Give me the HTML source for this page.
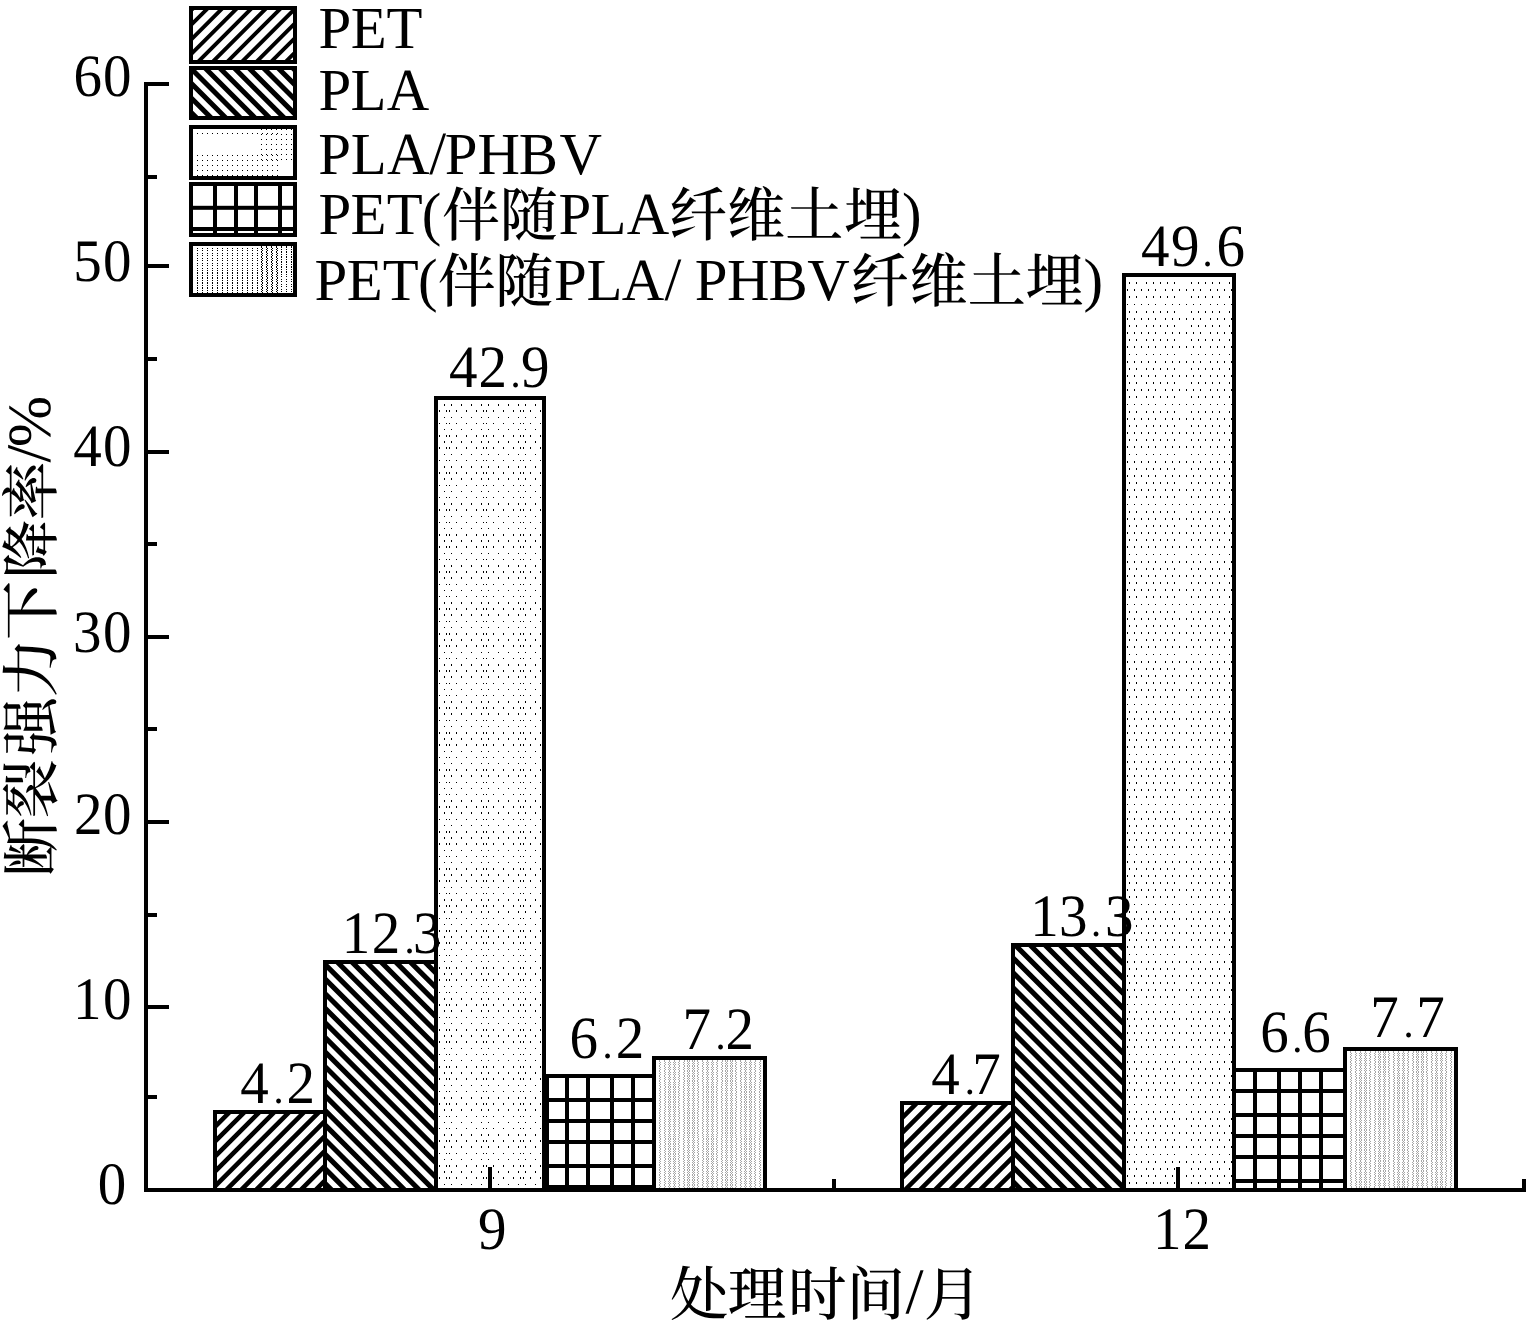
<!DOCTYPE html>
<html lang="zh"><head><meta charset="utf-8"><title>断裂强力下降率</title>
<style>
html,body{margin:0;padding:0;background:#fff;overflow:hidden}
svg{display:block}
text{font-family:"Liberation Serif","Noto Serif CJK SC",serif;fill:#000;font-kerning:none;white-space:pre;text-rendering:geometricPrecision}
</style></head>
<body>
<svg width="1527" height="1332" viewBox="0 0 1527 1332">
<defs>
<pattern id="pDotA" patternUnits="userSpaceOnUse" x="439" y="400" width="37" height="796"><path d="M5 4h1v2h-1zM12 4h1v2h-1zM22 4h1v2h-1zM32 4h1v2h-1zM0 10h1v2h-1zM7 10h1v2h-1zM10 10h1v2h-1zM17 10h1v2h-1zM27 10h1v2h-1zM5 17h1v1h-1zM12 17h1v1h-1zM22 17h1v1h-1zM32 17h1v1h-1zM0 23h1v1h-1zM7 23h1v1h-1zM10 23h1v1h-1zM17 23h1v1h-1zM27 23h1v1h-1zM5 29h1v1h-1zM12 29h1v1h-1zM22 29h1v1h-1zM32 29h1v1h-1zM0 35h1v2h-1zM7 35h1v2h-1zM10 35h1v2h-1zM17 35h1v2h-1zM27 35h1v2h-1zM5 41h1v2h-1zM12 41h1v2h-1zM22 41h1v2h-1zM32 41h1v2h-1zM0 47h1v2h-1zM7 47h1v2h-1zM10 47h1v2h-1zM17 47h1v2h-1zM27 47h1v2h-1zM5 54h1v1h-1zM12 54h1v1h-1zM22 54h1v1h-1zM32 54h1v1h-1zM0 60h1v1h-1zM7 60h1v1h-1zM10 60h1v1h-1zM17 60h1v1h-1zM27 60h1v1h-1zM5 66h1v2h-1zM12 66h1v2h-1zM22 66h1v2h-1zM32 66h1v2h-1zM0 72h1v2h-1zM7 72h1v2h-1zM10 72h1v2h-1zM17 72h1v2h-1zM27 72h1v2h-1zM5 78h1v2h-1zM12 78h1v2h-1zM22 78h1v2h-1zM32 78h1v2h-1zM0 85h1v1h-1zM7 85h1v1h-1zM10 85h1v1h-1zM17 85h1v1h-1zM27 85h1v1h-1zM5 91h1v1h-1zM12 91h1v1h-1zM22 91h1v1h-1zM32 91h1v1h-1zM0 97h1v1h-1zM7 97h1v1h-1zM10 97h1v1h-1zM17 97h1v1h-1zM27 97h1v1h-1zM5 103h1v2h-1zM12 103h1v2h-1zM22 103h1v2h-1zM32 103h1v2h-1zM0 109h1v2h-1zM7 109h1v2h-1zM10 109h1v2h-1zM17 109h1v2h-1zM27 109h1v2h-1zM5 116h1v1h-1zM12 116h1v1h-1zM22 116h1v1h-1zM32 116h1v1h-1zM0 122h1v1h-1zM7 122h1v1h-1zM10 122h1v1h-1zM17 122h1v1h-1zM27 122h1v1h-1zM5 128h1v1h-1zM12 128h1v1h-1zM22 128h1v1h-1zM32 128h1v1h-1zM0 134h1v2h-1zM7 134h1v2h-1zM10 134h1v2h-1zM17 134h1v2h-1zM27 134h1v2h-1zM5 140h1v2h-1zM12 140h1v2h-1zM22 140h1v2h-1zM32 140h1v2h-1zM0 146h1v2h-1zM7 146h1v2h-1zM10 146h1v2h-1zM17 146h1v2h-1zM27 146h1v2h-1zM5 153h1v1h-1zM12 153h1v1h-1zM22 153h1v1h-1zM32 153h1v1h-1zM0 159h1v1h-1zM7 159h1v1h-1zM10 159h1v1h-1zM17 159h1v1h-1zM27 159h1v1h-1zM5 165h1v2h-1zM12 165h1v2h-1zM22 165h1v2h-1zM32 165h1v2h-1zM0 171h1v2h-1zM7 171h1v2h-1zM10 171h1v2h-1zM17 171h1v2h-1zM27 171h1v2h-1zM5 177h1v2h-1zM12 177h1v2h-1zM22 177h1v2h-1zM32 177h1v2h-1zM0 184h1v1h-1zM7 184h1v1h-1zM10 184h1v1h-1zM17 184h1v1h-1zM27 184h1v1h-1zM5 190h1v1h-1zM12 190h1v1h-1zM22 190h1v1h-1zM32 190h1v1h-1zM0 196h1v1h-1zM7 196h1v1h-1zM10 196h1v1h-1zM17 196h1v1h-1zM27 196h1v1h-1zM5 202h1v2h-1zM12 202h1v2h-1zM22 202h1v2h-1zM32 202h1v2h-1zM0 208h1v2h-1zM7 208h1v2h-1zM10 208h1v2h-1zM17 208h1v2h-1zM27 208h1v2h-1zM5 214h1v2h-1zM12 214h1v2h-1zM22 214h1v2h-1zM32 214h1v2h-1zM0 221h1v1h-1zM7 221h1v1h-1zM10 221h1v1h-1zM17 221h1v1h-1zM27 221h1v1h-1zM5 227h1v1h-1zM12 227h1v1h-1zM22 227h1v1h-1zM32 227h1v1h-1zM0 233h1v2h-1zM7 233h1v2h-1zM10 233h1v2h-1zM17 233h1v2h-1zM27 233h1v2h-1zM5 239h1v2h-1zM12 239h1v2h-1zM22 239h1v2h-1zM32 239h1v2h-1zM0 245h1v2h-1zM7 245h1v2h-1zM10 245h1v2h-1zM17 245h1v2h-1zM27 245h1v2h-1zM5 252h1v1h-1zM12 252h1v1h-1zM22 252h1v1h-1zM32 252h1v1h-1zM0 258h1v1h-1zM7 258h1v1h-1zM10 258h1v1h-1zM17 258h1v1h-1zM27 258h1v1h-1zM5 264h1v2h-1zM12 264h1v2h-1zM22 264h1v2h-1zM32 264h1v2h-1zM0 270h1v2h-1zM7 270h1v2h-1zM10 270h1v2h-1zM17 270h1v2h-1zM27 270h1v2h-1zM5 276h1v2h-1zM12 276h1v2h-1zM22 276h1v2h-1zM32 276h1v2h-1zM0 283h1v1h-1zM7 283h1v1h-1zM10 283h1v1h-1zM17 283h1v1h-1zM27 283h1v1h-1zM5 289h1v1h-1zM12 289h1v1h-1zM22 289h1v1h-1zM32 289h1v1h-1zM0 295h1v1h-1zM7 295h1v1h-1zM10 295h1v1h-1zM17 295h1v1h-1zM27 295h1v1h-1zM5 301h1v2h-1zM12 301h1v2h-1zM22 301h1v2h-1zM32 301h1v2h-1zM0 307h1v2h-1zM7 307h1v2h-1zM10 307h1v2h-1zM17 307h1v2h-1zM27 307h1v2h-1zM5 313h1v2h-1zM12 313h1v2h-1zM22 313h1v2h-1zM32 313h1v2h-1zM0 320h1v1h-1zM7 320h1v1h-1zM10 320h1v1h-1zM17 320h1v1h-1zM27 320h1v1h-1zM5 326h1v1h-1zM12 326h1v1h-1zM22 326h1v1h-1zM32 326h1v1h-1zM0 332h1v2h-1zM7 332h1v2h-1zM10 332h1v2h-1zM17 332h1v2h-1zM27 332h1v2h-1zM5 338h1v2h-1zM12 338h1v2h-1zM22 338h1v2h-1zM32 338h1v2h-1zM0 344h1v2h-1zM7 344h1v2h-1zM10 344h1v2h-1zM17 344h1v2h-1zM27 344h1v2h-1zM5 351h1v1h-1zM12 351h1v1h-1zM22 351h1v1h-1zM32 351h1v1h-1zM0 357h1v1h-1zM7 357h1v1h-1zM10 357h1v1h-1zM17 357h1v1h-1zM27 357h1v1h-1zM5 363h1v1h-1zM12 363h1v1h-1zM22 363h1v1h-1zM32 363h1v1h-1zM0 369h1v2h-1zM7 369h1v2h-1zM10 369h1v2h-1zM17 369h1v2h-1zM27 369h1v2h-1zM5 375h1v2h-1zM12 375h1v2h-1zM22 375h1v2h-1zM32 375h1v2h-1zM0 382h1v1h-1zM7 382h1v1h-1zM10 382h1v1h-1zM17 382h1v1h-1zM27 382h1v1h-1zM5 388h1v1h-1zM12 388h1v1h-1zM22 388h1v1h-1zM32 388h1v1h-1zM0 394h1v1h-1zM7 394h1v1h-1zM10 394h1v1h-1zM17 394h1v1h-1zM27 394h1v1h-1zM5 400h1v2h-1zM12 400h1v2h-1zM22 400h1v2h-1zM32 400h1v2h-1zM0 406h1v2h-1zM7 406h1v2h-1zM10 406h1v2h-1zM17 406h1v2h-1zM27 406h1v2h-1zM5 412h1v2h-1zM12 412h1v2h-1zM22 412h1v2h-1zM32 412h1v2h-1zM0 419h1v1h-1zM7 419h1v1h-1zM10 419h1v1h-1zM17 419h1v1h-1zM27 419h1v1h-1zM5 425h1v1h-1zM12 425h1v1h-1zM22 425h1v1h-1zM32 425h1v1h-1zM0 431h1v2h-1zM7 431h1v2h-1zM10 431h1v2h-1zM17 431h1v2h-1zM27 431h1v2h-1zM5 437h1v2h-1zM12 437h1v2h-1zM22 437h1v2h-1zM32 437h1v2h-1zM0 443h1v2h-1zM7 443h1v2h-1zM10 443h1v2h-1zM17 443h1v2h-1zM27 443h1v2h-1zM5 450h1v1h-1zM12 450h1v1h-1zM22 450h1v1h-1zM32 450h1v1h-1zM0 456h1v1h-1zM7 456h1v1h-1zM10 456h1v1h-1zM17 456h1v1h-1zM27 456h1v1h-1zM5 462h1v1h-1zM12 462h1v1h-1zM22 462h1v1h-1zM32 462h1v1h-1zM0 468h1v2h-1zM7 468h1v2h-1zM10 468h1v2h-1zM17 468h1v2h-1zM27 468h1v2h-1zM5 474h1v2h-1zM12 474h1v2h-1zM22 474h1v2h-1zM32 474h1v2h-1zM0 480h1v2h-1zM7 480h1v2h-1zM10 480h1v2h-1zM17 480h1v2h-1zM27 480h1v2h-1zM5 487h1v1h-1zM12 487h1v1h-1zM22 487h1v1h-1zM32 487h1v1h-1zM0 493h1v1h-1zM7 493h1v1h-1zM10 493h1v1h-1zM17 493h1v1h-1zM27 493h1v1h-1zM5 499h1v2h-1zM12 499h1v2h-1zM22 499h1v2h-1zM32 499h1v2h-1zM0 505h1v2h-1zM7 505h1v2h-1zM10 505h1v2h-1zM17 505h1v2h-1zM27 505h1v2h-1zM5 511h1v2h-1zM12 511h1v2h-1zM22 511h1v2h-1zM32 511h1v2h-1zM0 518h1v1h-1zM7 518h1v1h-1zM10 518h1v1h-1zM17 518h1v1h-1zM27 518h1v1h-1zM5 524h1v1h-1zM12 524h1v1h-1zM22 524h1v1h-1zM32 524h1v1h-1zM0 530h1v2h-1zM7 530h1v2h-1zM10 530h1v2h-1zM17 530h1v2h-1zM27 530h1v2h-1zM5 536h1v2h-1zM12 536h1v2h-1zM22 536h1v2h-1zM32 536h1v2h-1zM0 542h1v2h-1zM7 542h1v2h-1zM10 542h1v2h-1zM17 542h1v2h-1zM27 542h1v2h-1zM5 549h1v1h-1zM12 549h1v1h-1zM22 549h1v1h-1zM32 549h1v1h-1zM0 555h1v1h-1zM7 555h1v1h-1zM10 555h1v1h-1zM17 555h1v1h-1zM27 555h1v1h-1zM5 561h1v1h-1zM12 561h1v1h-1zM22 561h1v1h-1zM32 561h1v1h-1zM0 567h1v2h-1zM7 567h1v2h-1zM10 567h1v2h-1zM17 567h1v2h-1zM27 567h1v2h-1zM5 573h1v2h-1zM12 573h1v2h-1zM22 573h1v2h-1zM32 573h1v2h-1zM0 579h1v2h-1zM7 579h1v2h-1zM10 579h1v2h-1zM17 579h1v2h-1zM27 579h1v2h-1zM5 586h1v1h-1zM12 586h1v1h-1zM22 586h1v1h-1zM32 586h1v1h-1zM0 592h1v1h-1zM7 592h1v1h-1zM10 592h1v1h-1zM17 592h1v1h-1zM27 592h1v1h-1zM5 598h1v2h-1zM12 598h1v2h-1zM22 598h1v2h-1zM32 598h1v2h-1zM0 604h1v2h-1zM7 604h1v2h-1zM10 604h1v2h-1zM17 604h1v2h-1zM27 604h1v2h-1zM5 610h1v2h-1zM12 610h1v2h-1zM22 610h1v2h-1zM32 610h1v2h-1zM0 617h1v1h-1zM7 617h1v1h-1zM10 617h1v1h-1zM17 617h1v1h-1zM27 617h1v1h-1zM5 623h1v1h-1zM12 623h1v1h-1zM22 623h1v1h-1zM32 623h1v1h-1zM0 629h1v2h-1zM7 629h1v2h-1zM10 629h1v2h-1zM17 629h1v2h-1zM27 629h1v2h-1zM5 635h1v2h-1zM12 635h1v2h-1zM22 635h1v2h-1zM32 635h1v2h-1zM0 641h1v2h-1zM7 641h1v2h-1zM10 641h1v2h-1zM17 641h1v2h-1zM27 641h1v2h-1zM5 648h1v1h-1zM12 648h1v1h-1zM22 648h1v1h-1zM32 648h1v1h-1zM0 654h1v1h-1zM7 654h1v1h-1zM10 654h1v1h-1zM17 654h1v1h-1zM27 654h1v1h-1zM5 660h1v1h-1zM12 660h1v1h-1zM22 660h1v1h-1zM32 660h1v1h-1zM0 666h1v2h-1zM7 666h1v2h-1zM10 666h1v2h-1zM17 666h1v2h-1zM27 666h1v2h-1zM5 672h1v2h-1zM12 672h1v2h-1zM22 672h1v2h-1zM32 672h1v2h-1zM0 678h1v2h-1zM7 678h1v2h-1zM10 678h1v2h-1zM17 678h1v2h-1zM27 678h1v2h-1zM5 685h1v1h-1zM12 685h1v1h-1zM22 685h1v1h-1zM32 685h1v1h-1zM0 691h1v1h-1zM7 691h1v1h-1zM10 691h1v1h-1zM17 691h1v1h-1zM27 691h1v1h-1zM5 697h1v2h-1zM12 697h1v2h-1zM22 697h1v2h-1zM32 697h1v2h-1zM0 703h1v2h-1zM7 703h1v2h-1zM10 703h1v2h-1zM17 703h1v2h-1zM27 703h1v2h-1zM5 709h1v2h-1zM12 709h1v2h-1zM22 709h1v2h-1zM32 709h1v2h-1zM0 716h1v1h-1zM7 716h1v1h-1zM10 716h1v1h-1zM17 716h1v1h-1zM27 716h1v1h-1zM5 722h1v1h-1zM12 722h1v1h-1zM22 722h1v1h-1zM32 722h1v1h-1zM0 728h1v1h-1zM7 728h1v1h-1zM10 728h1v1h-1zM17 728h1v1h-1zM27 728h1v1h-1zM5 734h1v2h-1zM12 734h1v2h-1zM22 734h1v2h-1zM32 734h1v2h-1zM0 740h1v2h-1zM7 740h1v2h-1zM10 740h1v2h-1zM17 740h1v2h-1zM27 740h1v2h-1zM5 746h1v2h-1zM12 746h1v2h-1zM22 746h1v2h-1zM32 746h1v2h-1zM0 753h1v1h-1zM7 753h1v1h-1zM10 753h1v1h-1zM17 753h1v1h-1zM27 753h1v1h-1zM5 759h1v1h-1zM12 759h1v1h-1zM22 759h1v1h-1zM32 759h1v1h-1zM0 765h1v2h-1zM7 765h1v2h-1zM10 765h1v2h-1zM17 765h1v2h-1zM27 765h1v2h-1zM5 771h1v2h-1zM12 771h1v2h-1zM22 771h1v2h-1zM32 771h1v2h-1zM0 777h1v2h-1zM7 777h1v2h-1zM10 777h1v2h-1zM17 777h1v2h-1zM27 777h1v2h-1zM5 784h1v1h-1zM12 784h1v1h-1zM22 784h1v1h-1zM32 784h1v1h-1z" fill="#000" shape-rendering="crispEdges"/></pattern>
<pattern id="pDotB" patternUnits="userSpaceOnUse" x="1126" y="277" width="120" height="919"><path d="M3 5h1v2h-1zM10 5h1v2h-1zM20 5h1v2h-1zM27 5h1v2h-1zM34 5h1v2h-1zM41 5h1v2h-1zM48 5h1v2h-1zM65 5h1v2h-1zM72 5h1v2h-1zM79 5h1v2h-1zM86 5h1v2h-1zM93 5h1v2h-1zM103 5h1v2h-1zM1 12h1v2h-1zM8 12h1v2h-1zM15 12h1v2h-1zM22 12h1v2h-1zM29 12h1v2h-1zM39 12h1v2h-1zM46 12h1v2h-1zM53 12h1v2h-1zM60 12h1v2h-1zM67 12h1v2h-1zM74 12h1v2h-1zM84 12h1v2h-1zM91 12h1v2h-1zM98 12h1v2h-1zM105 12h1v2h-1zM3 19h1v2h-1zM10 19h1v2h-1zM20 19h1v2h-1zM27 19h1v2h-1zM34 19h1v2h-1zM41 19h1v2h-1zM48 19h1v2h-1zM65 19h1v2h-1zM72 19h1v2h-1zM79 19h1v2h-1zM86 19h1v2h-1zM93 19h1v2h-1zM103 19h1v2h-1zM1 27h1v1h-1zM8 27h1v1h-1zM15 27h1v1h-1zM22 27h1v1h-1zM29 27h1v1h-1zM39 27h1v1h-1zM46 27h1v1h-1zM53 27h1v1h-1zM60 27h1v1h-1zM67 27h1v1h-1zM74 27h1v1h-1zM84 27h1v1h-1zM91 27h1v1h-1zM98 27h1v1h-1zM105 27h1v1h-1zM3 34h1v2h-1zM10 34h1v2h-1zM20 34h1v2h-1zM27 34h1v2h-1zM34 34h1v2h-1zM41 34h1v2h-1zM48 34h1v2h-1zM65 34h1v2h-1zM72 34h1v2h-1zM79 34h1v2h-1zM86 34h1v2h-1zM93 34h1v2h-1zM103 34h1v2h-1zM1 41h1v2h-1zM8 41h1v2h-1zM15 41h1v2h-1zM22 41h1v2h-1zM29 41h1v2h-1zM39 41h1v2h-1zM46 41h1v2h-1zM53 41h1v2h-1zM60 41h1v2h-1zM67 41h1v2h-1zM74 41h1v2h-1zM84 41h1v2h-1zM91 41h1v2h-1zM98 41h1v2h-1zM105 41h1v2h-1zM3 48h1v2h-1zM10 48h1v2h-1zM20 48h1v2h-1zM27 48h1v2h-1zM34 48h1v2h-1zM41 48h1v2h-1zM48 48h1v2h-1zM65 48h1v2h-1zM72 48h1v2h-1zM79 48h1v2h-1zM86 48h1v2h-1zM93 48h1v2h-1zM103 48h1v2h-1zM1 55h1v2h-1zM8 55h1v2h-1zM15 55h1v2h-1zM22 55h1v2h-1zM29 55h1v2h-1zM39 55h1v2h-1zM46 55h1v2h-1zM53 55h1v2h-1zM60 55h1v2h-1zM67 55h1v2h-1zM74 55h1v2h-1zM84 55h1v2h-1zM91 55h1v2h-1zM98 55h1v2h-1zM105 55h1v2h-1zM3 62h1v2h-1zM10 62h1v2h-1zM20 62h1v2h-1zM27 62h1v2h-1zM34 62h1v2h-1zM41 62h1v2h-1zM48 62h1v2h-1zM65 62h1v2h-1zM72 62h1v2h-1zM79 62h1v2h-1zM86 62h1v2h-1zM93 62h1v2h-1zM103 62h1v2h-1zM1 69h1v2h-1zM8 69h1v2h-1zM15 69h1v2h-1zM22 69h1v2h-1zM29 69h1v2h-1zM39 69h1v2h-1zM46 69h1v2h-1zM53 69h1v2h-1zM60 69h1v2h-1zM67 69h1v2h-1zM74 69h1v2h-1zM84 69h1v2h-1zM91 69h1v2h-1zM98 69h1v2h-1zM105 69h1v2h-1zM3 77h1v1h-1zM10 77h1v1h-1zM20 77h1v1h-1zM27 77h1v1h-1zM34 77h1v1h-1zM41 77h1v1h-1zM48 77h1v1h-1zM65 77h1v1h-1zM72 77h1v1h-1zM79 77h1v1h-1zM86 77h1v1h-1zM93 77h1v1h-1zM103 77h1v1h-1zM1 84h1v2h-1zM8 84h1v2h-1zM15 84h1v2h-1zM22 84h1v2h-1zM29 84h1v2h-1zM39 84h1v2h-1zM46 84h1v2h-1zM53 84h1v2h-1zM60 84h1v2h-1zM67 84h1v2h-1zM74 84h1v2h-1zM84 84h1v2h-1zM91 84h1v2h-1zM98 84h1v2h-1zM105 84h1v2h-1zM3 91h1v2h-1zM10 91h1v2h-1zM20 91h1v2h-1zM27 91h1v2h-1zM34 91h1v2h-1zM41 91h1v2h-1zM48 91h1v2h-1zM65 91h1v2h-1zM72 91h1v2h-1zM79 91h1v2h-1zM86 91h1v2h-1zM93 91h1v2h-1zM103 91h1v2h-1zM1 98h1v2h-1zM8 98h1v2h-1zM15 98h1v2h-1zM22 98h1v2h-1zM29 98h1v2h-1zM39 98h1v2h-1zM46 98h1v2h-1zM53 98h1v2h-1zM60 98h1v2h-1zM67 98h1v2h-1zM74 98h1v2h-1zM84 98h1v2h-1zM91 98h1v2h-1zM98 98h1v2h-1zM105 98h1v2h-1zM3 105h1v2h-1zM10 105h1v2h-1zM20 105h1v2h-1zM27 105h1v2h-1zM34 105h1v2h-1zM41 105h1v2h-1zM48 105h1v2h-1zM65 105h1v2h-1zM72 105h1v2h-1zM79 105h1v2h-1zM86 105h1v2h-1zM93 105h1v2h-1zM103 105h1v2h-1zM1 112h1v2h-1zM8 112h1v2h-1zM15 112h1v2h-1zM22 112h1v2h-1zM29 112h1v2h-1zM39 112h1v2h-1zM46 112h1v2h-1zM53 112h1v2h-1zM60 112h1v2h-1zM67 112h1v2h-1zM74 112h1v2h-1zM84 112h1v2h-1zM91 112h1v2h-1zM98 112h1v2h-1zM105 112h1v2h-1zM3 119h1v2h-1zM10 119h1v2h-1zM20 119h1v2h-1zM27 119h1v2h-1zM34 119h1v2h-1zM41 119h1v2h-1zM48 119h1v2h-1zM65 119h1v2h-1zM72 119h1v2h-1zM79 119h1v2h-1zM86 119h1v2h-1zM93 119h1v2h-1zM103 119h1v2h-1zM1 127h1v1h-1zM8 127h1v1h-1zM15 127h1v1h-1zM22 127h1v1h-1zM29 127h1v1h-1zM39 127h1v1h-1zM46 127h1v1h-1zM53 127h1v1h-1zM60 127h1v1h-1zM67 127h1v1h-1zM74 127h1v1h-1zM84 127h1v1h-1zM91 127h1v1h-1zM98 127h1v1h-1zM105 127h1v1h-1zM3 134h1v2h-1zM10 134h1v2h-1zM20 134h1v2h-1zM27 134h1v2h-1zM34 134h1v2h-1zM41 134h1v2h-1zM48 134h1v2h-1zM65 134h1v2h-1zM72 134h1v2h-1zM79 134h1v2h-1zM86 134h1v2h-1zM93 134h1v2h-1zM103 134h1v2h-1zM1 141h1v2h-1zM8 141h1v2h-1zM15 141h1v2h-1zM22 141h1v2h-1zM29 141h1v2h-1zM39 141h1v2h-1zM46 141h1v2h-1zM53 141h1v2h-1zM60 141h1v2h-1zM67 141h1v2h-1zM74 141h1v2h-1zM84 141h1v2h-1zM91 141h1v2h-1zM98 141h1v2h-1zM105 141h1v2h-1zM3 148h1v2h-1zM10 148h1v2h-1zM20 148h1v2h-1zM27 148h1v2h-1zM34 148h1v2h-1zM41 148h1v2h-1zM48 148h1v2h-1zM65 148h1v2h-1zM72 148h1v2h-1zM79 148h1v2h-1zM86 148h1v2h-1zM93 148h1v2h-1zM103 148h1v2h-1zM1 155h1v2h-1zM8 155h1v2h-1zM15 155h1v2h-1zM22 155h1v2h-1zM29 155h1v2h-1zM39 155h1v2h-1zM46 155h1v2h-1zM53 155h1v2h-1zM60 155h1v2h-1zM67 155h1v2h-1zM74 155h1v2h-1zM84 155h1v2h-1zM91 155h1v2h-1zM98 155h1v2h-1zM105 155h1v2h-1zM3 162h1v2h-1zM10 162h1v2h-1zM20 162h1v2h-1zM27 162h1v2h-1zM34 162h1v2h-1zM41 162h1v2h-1zM48 162h1v2h-1zM65 162h1v2h-1zM72 162h1v2h-1zM79 162h1v2h-1zM86 162h1v2h-1zM93 162h1v2h-1zM103 162h1v2h-1zM1 169h1v2h-1zM8 169h1v2h-1zM15 169h1v2h-1zM22 169h1v2h-1zM29 169h1v2h-1zM39 169h1v2h-1zM46 169h1v2h-1zM53 169h1v2h-1zM60 169h1v2h-1zM67 169h1v2h-1zM74 169h1v2h-1zM84 169h1v2h-1zM91 169h1v2h-1zM98 169h1v2h-1zM105 169h1v2h-1zM3 177h1v1h-1zM10 177h1v1h-1zM20 177h1v1h-1zM27 177h1v1h-1zM34 177h1v1h-1zM41 177h1v1h-1zM48 177h1v1h-1zM65 177h1v1h-1zM72 177h1v1h-1zM79 177h1v1h-1zM86 177h1v1h-1zM93 177h1v1h-1zM103 177h1v1h-1zM1 184h1v2h-1zM8 184h1v2h-1zM15 184h1v2h-1zM22 184h1v2h-1zM29 184h1v2h-1zM39 184h1v2h-1zM46 184h1v2h-1zM53 184h1v2h-1zM60 184h1v2h-1zM67 184h1v2h-1zM74 184h1v2h-1zM84 184h1v2h-1zM91 184h1v2h-1zM98 184h1v2h-1zM105 184h1v2h-1zM3 191h1v2h-1zM10 191h1v2h-1zM20 191h1v2h-1zM27 191h1v2h-1zM34 191h1v2h-1zM41 191h1v2h-1zM48 191h1v2h-1zM65 191h1v2h-1zM72 191h1v2h-1zM79 191h1v2h-1zM86 191h1v2h-1zM93 191h1v2h-1zM103 191h1v2h-1zM1 198h1v2h-1zM8 198h1v2h-1zM15 198h1v2h-1zM22 198h1v2h-1zM29 198h1v2h-1zM39 198h1v2h-1zM46 198h1v2h-1zM53 198h1v2h-1zM60 198h1v2h-1zM67 198h1v2h-1zM74 198h1v2h-1zM84 198h1v2h-1zM91 198h1v2h-1zM98 198h1v2h-1zM105 198h1v2h-1zM3 205h1v2h-1zM10 205h1v2h-1zM20 205h1v2h-1zM27 205h1v2h-1zM34 205h1v2h-1zM41 205h1v2h-1zM48 205h1v2h-1zM65 205h1v2h-1zM72 205h1v2h-1zM79 205h1v2h-1zM86 205h1v2h-1zM93 205h1v2h-1zM103 205h1v2h-1zM1 212h1v2h-1zM8 212h1v2h-1zM15 212h1v2h-1zM22 212h1v2h-1zM29 212h1v2h-1zM39 212h1v2h-1zM46 212h1v2h-1zM53 212h1v2h-1zM60 212h1v2h-1zM67 212h1v2h-1zM74 212h1v2h-1zM84 212h1v2h-1zM91 212h1v2h-1zM98 212h1v2h-1zM105 212h1v2h-1zM3 219h1v2h-1zM10 219h1v2h-1zM20 219h1v2h-1zM27 219h1v2h-1zM34 219h1v2h-1zM41 219h1v2h-1zM48 219h1v2h-1zM65 219h1v2h-1zM72 219h1v2h-1zM79 219h1v2h-1zM86 219h1v2h-1zM93 219h1v2h-1zM103 219h1v2h-1zM1 227h1v1h-1zM8 227h1v1h-1zM15 227h1v1h-1zM22 227h1v1h-1zM29 227h1v1h-1zM39 227h1v1h-1zM46 227h1v1h-1zM53 227h1v1h-1zM60 227h1v1h-1zM67 227h1v1h-1zM74 227h1v1h-1zM84 227h1v1h-1zM91 227h1v1h-1zM98 227h1v1h-1zM105 227h1v1h-1zM3 234h1v2h-1zM10 234h1v2h-1zM20 234h1v2h-1zM27 234h1v2h-1zM34 234h1v2h-1zM41 234h1v2h-1zM48 234h1v2h-1zM65 234h1v2h-1zM72 234h1v2h-1zM79 234h1v2h-1zM86 234h1v2h-1zM93 234h1v2h-1zM103 234h1v2h-1zM1 241h1v2h-1zM8 241h1v2h-1zM15 241h1v2h-1zM22 241h1v2h-1zM29 241h1v2h-1zM39 241h1v2h-1zM46 241h1v2h-1zM53 241h1v2h-1zM60 241h1v2h-1zM67 241h1v2h-1zM74 241h1v2h-1zM84 241h1v2h-1zM91 241h1v2h-1zM98 241h1v2h-1zM105 241h1v2h-1zM3 248h1v2h-1zM10 248h1v2h-1zM20 248h1v2h-1zM27 248h1v2h-1zM34 248h1v2h-1zM41 248h1v2h-1zM48 248h1v2h-1zM65 248h1v2h-1zM72 248h1v2h-1zM79 248h1v2h-1zM86 248h1v2h-1zM93 248h1v2h-1zM103 248h1v2h-1zM1 255h1v2h-1zM8 255h1v2h-1zM15 255h1v2h-1zM22 255h1v2h-1zM29 255h1v2h-1zM39 255h1v2h-1zM46 255h1v2h-1zM53 255h1v2h-1zM60 255h1v2h-1zM67 255h1v2h-1zM74 255h1v2h-1zM84 255h1v2h-1zM91 255h1v2h-1zM98 255h1v2h-1zM105 255h1v2h-1zM3 262h1v2h-1zM10 262h1v2h-1zM20 262h1v2h-1zM27 262h1v2h-1zM34 262h1v2h-1zM41 262h1v2h-1zM48 262h1v2h-1zM65 262h1v2h-1zM72 262h1v2h-1zM79 262h1v2h-1zM86 262h1v2h-1zM93 262h1v2h-1zM103 262h1v2h-1zM1 269h1v2h-1zM8 269h1v2h-1zM15 269h1v2h-1zM22 269h1v2h-1zM29 269h1v2h-1zM39 269h1v2h-1zM46 269h1v2h-1zM53 269h1v2h-1zM60 269h1v2h-1zM67 269h1v2h-1zM74 269h1v2h-1zM84 269h1v2h-1zM91 269h1v2h-1zM98 269h1v2h-1zM105 269h1v2h-1zM3 277h1v1h-1zM10 277h1v1h-1zM20 277h1v1h-1zM27 277h1v1h-1zM34 277h1v1h-1zM41 277h1v1h-1zM48 277h1v1h-1zM65 277h1v1h-1zM72 277h1v1h-1zM79 277h1v1h-1zM86 277h1v1h-1zM93 277h1v1h-1zM103 277h1v1h-1zM1 284h1v2h-1zM8 284h1v2h-1zM15 284h1v2h-1zM22 284h1v2h-1zM29 284h1v2h-1zM39 284h1v2h-1zM46 284h1v2h-1zM53 284h1v2h-1zM60 284h1v2h-1zM67 284h1v2h-1zM74 284h1v2h-1zM84 284h1v2h-1zM91 284h1v2h-1zM98 284h1v2h-1zM105 284h1v2h-1zM3 291h1v2h-1zM10 291h1v2h-1zM20 291h1v2h-1zM27 291h1v2h-1zM34 291h1v2h-1zM41 291h1v2h-1zM48 291h1v2h-1zM65 291h1v2h-1zM72 291h1v2h-1zM79 291h1v2h-1zM86 291h1v2h-1zM93 291h1v2h-1zM103 291h1v2h-1zM1 298h1v2h-1zM8 298h1v2h-1zM15 298h1v2h-1zM22 298h1v2h-1zM29 298h1v2h-1zM39 298h1v2h-1zM46 298h1v2h-1zM53 298h1v2h-1zM60 298h1v2h-1zM67 298h1v2h-1zM74 298h1v2h-1zM84 298h1v2h-1zM91 298h1v2h-1zM98 298h1v2h-1zM105 298h1v2h-1zM3 305h1v2h-1zM10 305h1v2h-1zM20 305h1v2h-1zM27 305h1v2h-1zM34 305h1v2h-1zM41 305h1v2h-1zM48 305h1v2h-1zM65 305h1v2h-1zM72 305h1v2h-1zM79 305h1v2h-1zM86 305h1v2h-1zM93 305h1v2h-1zM103 305h1v2h-1zM1 312h1v2h-1zM8 312h1v2h-1zM15 312h1v2h-1zM22 312h1v2h-1zM29 312h1v2h-1zM39 312h1v2h-1zM46 312h1v2h-1zM53 312h1v2h-1zM60 312h1v2h-1zM67 312h1v2h-1zM74 312h1v2h-1zM84 312h1v2h-1zM91 312h1v2h-1zM98 312h1v2h-1zM105 312h1v2h-1zM3 319h1v2h-1zM10 319h1v2h-1zM20 319h1v2h-1zM27 319h1v2h-1zM34 319h1v2h-1zM41 319h1v2h-1zM48 319h1v2h-1zM65 319h1v2h-1zM72 319h1v2h-1zM79 319h1v2h-1zM86 319h1v2h-1zM93 319h1v2h-1zM103 319h1v2h-1zM1 327h1v1h-1zM8 327h1v1h-1zM15 327h1v1h-1zM22 327h1v1h-1zM29 327h1v1h-1zM39 327h1v1h-1zM46 327h1v1h-1zM53 327h1v1h-1zM60 327h1v1h-1zM67 327h1v1h-1zM74 327h1v1h-1zM84 327h1v1h-1zM91 327h1v1h-1zM98 327h1v1h-1zM105 327h1v1h-1zM3 334h1v2h-1zM10 334h1v2h-1zM20 334h1v2h-1zM27 334h1v2h-1zM34 334h1v2h-1zM41 334h1v2h-1zM48 334h1v2h-1zM65 334h1v2h-1zM72 334h1v2h-1zM79 334h1v2h-1zM86 334h1v2h-1zM93 334h1v2h-1zM103 334h1v2h-1zM1 341h1v2h-1zM8 341h1v2h-1zM15 341h1v2h-1zM22 341h1v2h-1zM29 341h1v2h-1zM39 341h1v2h-1zM46 341h1v2h-1zM53 341h1v2h-1zM60 341h1v2h-1zM67 341h1v2h-1zM74 341h1v2h-1zM84 341h1v2h-1zM91 341h1v2h-1zM98 341h1v2h-1zM105 341h1v2h-1zM3 348h1v2h-1zM10 348h1v2h-1zM20 348h1v2h-1zM27 348h1v2h-1zM34 348h1v2h-1zM41 348h1v2h-1zM48 348h1v2h-1zM65 348h1v2h-1zM72 348h1v2h-1zM79 348h1v2h-1zM86 348h1v2h-1zM93 348h1v2h-1zM103 348h1v2h-1zM1 355h1v2h-1zM8 355h1v2h-1zM15 355h1v2h-1zM22 355h1v2h-1zM29 355h1v2h-1zM39 355h1v2h-1zM46 355h1v2h-1zM53 355h1v2h-1zM60 355h1v2h-1zM67 355h1v2h-1zM74 355h1v2h-1zM84 355h1v2h-1zM91 355h1v2h-1zM98 355h1v2h-1zM105 355h1v2h-1zM3 362h1v2h-1zM10 362h1v2h-1zM20 362h1v2h-1zM27 362h1v2h-1zM34 362h1v2h-1zM41 362h1v2h-1zM48 362h1v2h-1zM65 362h1v2h-1zM72 362h1v2h-1zM79 362h1v2h-1zM86 362h1v2h-1zM93 362h1v2h-1zM103 362h1v2h-1zM1 369h1v2h-1zM8 369h1v2h-1zM15 369h1v2h-1zM22 369h1v2h-1zM29 369h1v2h-1zM39 369h1v2h-1zM46 369h1v2h-1zM53 369h1v2h-1zM60 369h1v2h-1zM67 369h1v2h-1zM74 369h1v2h-1zM84 369h1v2h-1zM91 369h1v2h-1zM98 369h1v2h-1zM105 369h1v2h-1zM3 377h1v1h-1zM10 377h1v1h-1zM20 377h1v1h-1zM27 377h1v1h-1zM34 377h1v1h-1zM41 377h1v1h-1zM48 377h1v1h-1zM65 377h1v1h-1zM72 377h1v1h-1zM79 377h1v1h-1zM86 377h1v1h-1zM93 377h1v1h-1zM103 377h1v1h-1zM1 384h1v2h-1zM8 384h1v2h-1zM15 384h1v2h-1zM22 384h1v2h-1zM29 384h1v2h-1zM39 384h1v2h-1zM46 384h1v2h-1zM53 384h1v2h-1zM60 384h1v2h-1zM67 384h1v2h-1zM74 384h1v2h-1zM84 384h1v2h-1zM91 384h1v2h-1zM98 384h1v2h-1zM105 384h1v2h-1zM3 391h1v2h-1zM10 391h1v2h-1zM20 391h1v2h-1zM27 391h1v2h-1zM34 391h1v2h-1zM41 391h1v2h-1zM48 391h1v2h-1zM65 391h1v2h-1zM72 391h1v2h-1zM79 391h1v2h-1zM86 391h1v2h-1zM93 391h1v2h-1zM103 391h1v2h-1zM1 398h1v2h-1zM8 398h1v2h-1zM15 398h1v2h-1zM22 398h1v2h-1zM29 398h1v2h-1zM39 398h1v2h-1zM46 398h1v2h-1zM53 398h1v2h-1zM60 398h1v2h-1zM67 398h1v2h-1zM74 398h1v2h-1zM84 398h1v2h-1zM91 398h1v2h-1zM98 398h1v2h-1zM105 398h1v2h-1zM3 405h1v2h-1zM10 405h1v2h-1zM20 405h1v2h-1zM27 405h1v2h-1zM34 405h1v2h-1zM41 405h1v2h-1zM48 405h1v2h-1zM65 405h1v2h-1zM72 405h1v2h-1zM79 405h1v2h-1zM86 405h1v2h-1zM93 405h1v2h-1zM103 405h1v2h-1zM1 412h1v2h-1zM8 412h1v2h-1zM15 412h1v2h-1zM22 412h1v2h-1zM29 412h1v2h-1zM39 412h1v2h-1zM46 412h1v2h-1zM53 412h1v2h-1zM60 412h1v2h-1zM67 412h1v2h-1zM74 412h1v2h-1zM84 412h1v2h-1zM91 412h1v2h-1zM98 412h1v2h-1zM105 412h1v2h-1zM3 419h1v2h-1zM10 419h1v2h-1zM20 419h1v2h-1zM27 419h1v2h-1zM34 419h1v2h-1zM41 419h1v2h-1zM48 419h1v2h-1zM65 419h1v2h-1zM72 419h1v2h-1zM79 419h1v2h-1zM86 419h1v2h-1zM93 419h1v2h-1zM103 419h1v2h-1zM1 427h1v1h-1zM8 427h1v1h-1zM15 427h1v1h-1zM22 427h1v1h-1zM29 427h1v1h-1zM39 427h1v1h-1zM46 427h1v1h-1zM53 427h1v1h-1zM60 427h1v1h-1zM67 427h1v1h-1zM74 427h1v1h-1zM84 427h1v1h-1zM91 427h1v1h-1zM98 427h1v1h-1zM105 427h1v1h-1zM3 434h1v2h-1zM10 434h1v2h-1zM20 434h1v2h-1zM27 434h1v2h-1zM34 434h1v2h-1zM41 434h1v2h-1zM48 434h1v2h-1zM65 434h1v2h-1zM72 434h1v2h-1zM79 434h1v2h-1zM86 434h1v2h-1zM93 434h1v2h-1zM103 434h1v2h-1zM1 441h1v2h-1zM8 441h1v2h-1zM15 441h1v2h-1zM22 441h1v2h-1zM29 441h1v2h-1zM39 441h1v2h-1zM46 441h1v2h-1zM53 441h1v2h-1zM60 441h1v2h-1zM67 441h1v2h-1zM74 441h1v2h-1zM84 441h1v2h-1zM91 441h1v2h-1zM98 441h1v2h-1zM105 441h1v2h-1zM3 448h1v2h-1zM10 448h1v2h-1zM20 448h1v2h-1zM27 448h1v2h-1zM34 448h1v2h-1zM41 448h1v2h-1zM48 448h1v2h-1zM65 448h1v2h-1zM72 448h1v2h-1zM79 448h1v2h-1zM86 448h1v2h-1zM93 448h1v2h-1zM103 448h1v2h-1zM1 455h1v2h-1zM8 455h1v2h-1zM15 455h1v2h-1zM22 455h1v2h-1zM29 455h1v2h-1zM39 455h1v2h-1zM46 455h1v2h-1zM53 455h1v2h-1zM60 455h1v2h-1zM67 455h1v2h-1zM74 455h1v2h-1zM84 455h1v2h-1zM91 455h1v2h-1zM98 455h1v2h-1zM105 455h1v2h-1zM3 462h1v2h-1zM10 462h1v2h-1zM20 462h1v2h-1zM27 462h1v2h-1zM34 462h1v2h-1zM41 462h1v2h-1zM48 462h1v2h-1zM65 462h1v2h-1zM72 462h1v2h-1zM79 462h1v2h-1zM86 462h1v2h-1zM93 462h1v2h-1zM103 462h1v2h-1zM1 469h1v2h-1zM8 469h1v2h-1zM15 469h1v2h-1zM22 469h1v2h-1zM29 469h1v2h-1zM39 469h1v2h-1zM46 469h1v2h-1zM53 469h1v2h-1zM60 469h1v2h-1zM67 469h1v2h-1zM74 469h1v2h-1zM84 469h1v2h-1zM91 469h1v2h-1zM98 469h1v2h-1zM105 469h1v2h-1zM3 477h1v1h-1zM10 477h1v1h-1zM20 477h1v1h-1zM27 477h1v1h-1zM34 477h1v1h-1zM41 477h1v1h-1zM48 477h1v1h-1zM65 477h1v1h-1zM72 477h1v1h-1zM79 477h1v1h-1zM86 477h1v1h-1zM93 477h1v1h-1zM103 477h1v1h-1zM1 484h1v2h-1zM8 484h1v2h-1zM15 484h1v2h-1zM22 484h1v2h-1zM29 484h1v2h-1zM39 484h1v2h-1zM46 484h1v2h-1zM53 484h1v2h-1zM60 484h1v2h-1zM67 484h1v2h-1zM74 484h1v2h-1zM84 484h1v2h-1zM91 484h1v2h-1zM98 484h1v2h-1zM105 484h1v2h-1zM3 491h1v2h-1zM10 491h1v2h-1zM20 491h1v2h-1zM27 491h1v2h-1zM34 491h1v2h-1zM41 491h1v2h-1zM48 491h1v2h-1zM65 491h1v2h-1zM72 491h1v2h-1zM79 491h1v2h-1zM86 491h1v2h-1zM93 491h1v2h-1zM103 491h1v2h-1zM1 498h1v2h-1zM8 498h1v2h-1zM15 498h1v2h-1zM22 498h1v2h-1zM29 498h1v2h-1zM39 498h1v2h-1zM46 498h1v2h-1zM53 498h1v2h-1zM60 498h1v2h-1zM67 498h1v2h-1zM74 498h1v2h-1zM84 498h1v2h-1zM91 498h1v2h-1zM98 498h1v2h-1zM105 498h1v2h-1zM3 505h1v2h-1zM10 505h1v2h-1zM20 505h1v2h-1zM27 505h1v2h-1zM34 505h1v2h-1zM41 505h1v2h-1zM48 505h1v2h-1zM65 505h1v2h-1zM72 505h1v2h-1zM79 505h1v2h-1zM86 505h1v2h-1zM93 505h1v2h-1zM103 505h1v2h-1zM1 512h1v2h-1zM8 512h1v2h-1zM15 512h1v2h-1zM22 512h1v2h-1zM29 512h1v2h-1zM39 512h1v2h-1zM46 512h1v2h-1zM53 512h1v2h-1zM60 512h1v2h-1zM67 512h1v2h-1zM74 512h1v2h-1zM84 512h1v2h-1zM91 512h1v2h-1zM98 512h1v2h-1zM105 512h1v2h-1zM3 519h1v2h-1zM10 519h1v2h-1zM20 519h1v2h-1zM27 519h1v2h-1zM34 519h1v2h-1zM41 519h1v2h-1zM48 519h1v2h-1zM65 519h1v2h-1zM72 519h1v2h-1zM79 519h1v2h-1zM86 519h1v2h-1zM93 519h1v2h-1zM103 519h1v2h-1zM1 527h1v1h-1zM8 527h1v1h-1zM15 527h1v1h-1zM22 527h1v1h-1zM29 527h1v1h-1zM39 527h1v1h-1zM46 527h1v1h-1zM53 527h1v1h-1zM60 527h1v1h-1zM67 527h1v1h-1zM74 527h1v1h-1zM84 527h1v1h-1zM91 527h1v1h-1zM98 527h1v1h-1zM105 527h1v1h-1zM3 534h1v2h-1zM10 534h1v2h-1zM20 534h1v2h-1zM27 534h1v2h-1zM34 534h1v2h-1zM41 534h1v2h-1zM48 534h1v2h-1zM65 534h1v2h-1zM72 534h1v2h-1zM79 534h1v2h-1zM86 534h1v2h-1zM93 534h1v2h-1zM103 534h1v2h-1zM1 541h1v2h-1zM8 541h1v2h-1zM15 541h1v2h-1zM22 541h1v2h-1zM29 541h1v2h-1zM39 541h1v2h-1zM46 541h1v2h-1zM53 541h1v2h-1zM60 541h1v2h-1zM67 541h1v2h-1zM74 541h1v2h-1zM84 541h1v2h-1zM91 541h1v2h-1zM98 541h1v2h-1zM105 541h1v2h-1zM3 548h1v2h-1zM10 548h1v2h-1zM20 548h1v2h-1zM27 548h1v2h-1zM34 548h1v2h-1zM41 548h1v2h-1zM48 548h1v2h-1zM65 548h1v2h-1zM72 548h1v2h-1zM79 548h1v2h-1zM86 548h1v2h-1zM93 548h1v2h-1zM103 548h1v2h-1zM1 555h1v2h-1zM8 555h1v2h-1zM15 555h1v2h-1zM22 555h1v2h-1zM29 555h1v2h-1zM39 555h1v2h-1zM46 555h1v2h-1zM53 555h1v2h-1zM60 555h1v2h-1zM67 555h1v2h-1zM74 555h1v2h-1zM84 555h1v2h-1zM91 555h1v2h-1zM98 555h1v2h-1zM105 555h1v2h-1zM3 562h1v2h-1zM10 562h1v2h-1zM20 562h1v2h-1zM27 562h1v2h-1zM34 562h1v2h-1zM41 562h1v2h-1zM48 562h1v2h-1zM65 562h1v2h-1zM72 562h1v2h-1zM79 562h1v2h-1zM86 562h1v2h-1zM93 562h1v2h-1zM103 562h1v2h-1zM1 569h1v2h-1zM8 569h1v2h-1zM15 569h1v2h-1zM22 569h1v2h-1zM29 569h1v2h-1zM39 569h1v2h-1zM46 569h1v2h-1zM53 569h1v2h-1zM60 569h1v2h-1zM67 569h1v2h-1zM74 569h1v2h-1zM84 569h1v2h-1zM91 569h1v2h-1zM98 569h1v2h-1zM105 569h1v2h-1zM3 577h1v1h-1zM10 577h1v1h-1zM20 577h1v1h-1zM27 577h1v1h-1zM34 577h1v1h-1zM41 577h1v1h-1zM48 577h1v1h-1zM65 577h1v1h-1zM72 577h1v1h-1zM79 577h1v1h-1zM86 577h1v1h-1zM93 577h1v1h-1zM103 577h1v1h-1zM1 584h1v2h-1zM8 584h1v2h-1zM15 584h1v2h-1zM22 584h1v2h-1zM29 584h1v2h-1zM39 584h1v2h-1zM46 584h1v2h-1zM53 584h1v2h-1zM60 584h1v2h-1zM67 584h1v2h-1zM74 584h1v2h-1zM84 584h1v2h-1zM91 584h1v2h-1zM98 584h1v2h-1zM105 584h1v2h-1zM3 591h1v2h-1zM10 591h1v2h-1zM20 591h1v2h-1zM27 591h1v2h-1zM34 591h1v2h-1zM41 591h1v2h-1zM48 591h1v2h-1zM65 591h1v2h-1zM72 591h1v2h-1zM79 591h1v2h-1zM86 591h1v2h-1zM93 591h1v2h-1zM103 591h1v2h-1zM1 598h1v2h-1zM8 598h1v2h-1zM15 598h1v2h-1zM22 598h1v2h-1zM29 598h1v2h-1zM39 598h1v2h-1zM46 598h1v2h-1zM53 598h1v2h-1zM60 598h1v2h-1zM67 598h1v2h-1zM74 598h1v2h-1zM84 598h1v2h-1zM91 598h1v2h-1zM98 598h1v2h-1zM105 598h1v2h-1zM3 605h1v2h-1zM10 605h1v2h-1zM20 605h1v2h-1zM27 605h1v2h-1zM34 605h1v2h-1zM41 605h1v2h-1zM48 605h1v2h-1zM65 605h1v2h-1zM72 605h1v2h-1zM79 605h1v2h-1zM86 605h1v2h-1zM93 605h1v2h-1zM103 605h1v2h-1zM1 612h1v2h-1zM8 612h1v2h-1zM15 612h1v2h-1zM22 612h1v2h-1zM29 612h1v2h-1zM39 612h1v2h-1zM46 612h1v2h-1zM53 612h1v2h-1zM60 612h1v2h-1zM67 612h1v2h-1zM74 612h1v2h-1zM84 612h1v2h-1zM91 612h1v2h-1zM98 612h1v2h-1zM105 612h1v2h-1zM3 619h1v2h-1zM10 619h1v2h-1zM20 619h1v2h-1zM27 619h1v2h-1zM34 619h1v2h-1zM41 619h1v2h-1zM48 619h1v2h-1zM65 619h1v2h-1zM72 619h1v2h-1zM79 619h1v2h-1zM86 619h1v2h-1zM93 619h1v2h-1zM103 619h1v2h-1zM1 627h1v1h-1zM8 627h1v1h-1zM15 627h1v1h-1zM22 627h1v1h-1zM29 627h1v1h-1zM39 627h1v1h-1zM46 627h1v1h-1zM53 627h1v1h-1zM60 627h1v1h-1zM67 627h1v1h-1zM74 627h1v1h-1zM84 627h1v1h-1zM91 627h1v1h-1zM98 627h1v1h-1zM105 627h1v1h-1zM3 634h1v2h-1zM10 634h1v2h-1zM20 634h1v2h-1zM27 634h1v2h-1zM34 634h1v2h-1zM41 634h1v2h-1zM48 634h1v2h-1zM65 634h1v2h-1zM72 634h1v2h-1zM79 634h1v2h-1zM86 634h1v2h-1zM93 634h1v2h-1zM103 634h1v2h-1zM1 641h1v2h-1zM8 641h1v2h-1zM15 641h1v2h-1zM22 641h1v2h-1zM29 641h1v2h-1zM39 641h1v2h-1zM46 641h1v2h-1zM53 641h1v2h-1zM60 641h1v2h-1zM67 641h1v2h-1zM74 641h1v2h-1zM84 641h1v2h-1zM91 641h1v2h-1zM98 641h1v2h-1zM105 641h1v2h-1zM3 648h1v2h-1zM10 648h1v2h-1zM20 648h1v2h-1zM27 648h1v2h-1zM34 648h1v2h-1zM41 648h1v2h-1zM48 648h1v2h-1zM65 648h1v2h-1zM72 648h1v2h-1zM79 648h1v2h-1zM86 648h1v2h-1zM93 648h1v2h-1zM103 648h1v2h-1zM1 655h1v2h-1zM8 655h1v2h-1zM15 655h1v2h-1zM22 655h1v2h-1zM29 655h1v2h-1zM39 655h1v2h-1zM46 655h1v2h-1zM53 655h1v2h-1zM60 655h1v2h-1zM67 655h1v2h-1zM74 655h1v2h-1zM84 655h1v2h-1zM91 655h1v2h-1zM98 655h1v2h-1zM105 655h1v2h-1zM3 662h1v2h-1zM10 662h1v2h-1zM20 662h1v2h-1zM27 662h1v2h-1zM34 662h1v2h-1zM41 662h1v2h-1zM48 662h1v2h-1zM65 662h1v2h-1zM72 662h1v2h-1zM79 662h1v2h-1zM86 662h1v2h-1zM93 662h1v2h-1zM103 662h1v2h-1zM1 669h1v2h-1zM8 669h1v2h-1zM15 669h1v2h-1zM22 669h1v2h-1zM29 669h1v2h-1zM39 669h1v2h-1zM46 669h1v2h-1zM53 669h1v2h-1zM60 669h1v2h-1zM67 669h1v2h-1zM74 669h1v2h-1zM84 669h1v2h-1zM91 669h1v2h-1zM98 669h1v2h-1zM105 669h1v2h-1zM3 677h1v1h-1zM10 677h1v1h-1zM20 677h1v1h-1zM27 677h1v1h-1zM34 677h1v1h-1zM41 677h1v1h-1zM48 677h1v1h-1zM65 677h1v1h-1zM72 677h1v1h-1zM79 677h1v1h-1zM86 677h1v1h-1zM93 677h1v1h-1zM103 677h1v1h-1zM1 684h1v2h-1zM8 684h1v2h-1zM15 684h1v2h-1zM22 684h1v2h-1zM29 684h1v2h-1zM39 684h1v2h-1zM46 684h1v2h-1zM53 684h1v2h-1zM60 684h1v2h-1zM67 684h1v2h-1zM74 684h1v2h-1zM84 684h1v2h-1zM91 684h1v2h-1zM98 684h1v2h-1zM105 684h1v2h-1zM3 691h1v2h-1zM10 691h1v2h-1zM20 691h1v2h-1zM27 691h1v2h-1zM34 691h1v2h-1zM41 691h1v2h-1zM48 691h1v2h-1zM65 691h1v2h-1zM72 691h1v2h-1zM79 691h1v2h-1zM86 691h1v2h-1zM93 691h1v2h-1zM103 691h1v2h-1zM1 698h1v2h-1zM8 698h1v2h-1zM15 698h1v2h-1zM22 698h1v2h-1zM29 698h1v2h-1zM39 698h1v2h-1zM46 698h1v2h-1zM53 698h1v2h-1zM60 698h1v2h-1zM67 698h1v2h-1zM74 698h1v2h-1zM84 698h1v2h-1zM91 698h1v2h-1zM98 698h1v2h-1zM105 698h1v2h-1zM3 705h1v2h-1zM10 705h1v2h-1zM20 705h1v2h-1zM27 705h1v2h-1zM34 705h1v2h-1zM41 705h1v2h-1zM48 705h1v2h-1zM65 705h1v2h-1zM72 705h1v2h-1zM79 705h1v2h-1zM86 705h1v2h-1zM93 705h1v2h-1zM103 705h1v2h-1zM1 712h1v2h-1zM8 712h1v2h-1zM15 712h1v2h-1zM22 712h1v2h-1zM29 712h1v2h-1zM39 712h1v2h-1zM46 712h1v2h-1zM53 712h1v2h-1zM60 712h1v2h-1zM67 712h1v2h-1zM74 712h1v2h-1zM84 712h1v2h-1zM91 712h1v2h-1zM98 712h1v2h-1zM105 712h1v2h-1zM3 719h1v2h-1zM10 719h1v2h-1zM20 719h1v2h-1zM27 719h1v2h-1zM34 719h1v2h-1zM41 719h1v2h-1zM48 719h1v2h-1zM65 719h1v2h-1zM72 719h1v2h-1zM79 719h1v2h-1zM86 719h1v2h-1zM93 719h1v2h-1zM103 719h1v2h-1zM1 727h1v1h-1zM8 727h1v1h-1zM15 727h1v1h-1zM22 727h1v1h-1zM29 727h1v1h-1zM39 727h1v1h-1zM46 727h1v1h-1zM53 727h1v1h-1zM60 727h1v1h-1zM67 727h1v1h-1zM74 727h1v1h-1zM84 727h1v1h-1zM91 727h1v1h-1zM98 727h1v1h-1zM105 727h1v1h-1zM3 734h1v2h-1zM10 734h1v2h-1zM20 734h1v2h-1zM27 734h1v2h-1zM34 734h1v2h-1zM41 734h1v2h-1zM48 734h1v2h-1zM65 734h1v2h-1zM72 734h1v2h-1zM79 734h1v2h-1zM86 734h1v2h-1zM93 734h1v2h-1zM103 734h1v2h-1zM1 741h1v2h-1zM8 741h1v2h-1zM15 741h1v2h-1zM22 741h1v2h-1zM29 741h1v2h-1zM39 741h1v2h-1zM46 741h1v2h-1zM53 741h1v2h-1zM60 741h1v2h-1zM67 741h1v2h-1zM74 741h1v2h-1zM84 741h1v2h-1zM91 741h1v2h-1zM98 741h1v2h-1zM105 741h1v2h-1zM3 748h1v2h-1zM10 748h1v2h-1zM20 748h1v2h-1zM27 748h1v2h-1zM34 748h1v2h-1zM41 748h1v2h-1zM48 748h1v2h-1zM65 748h1v2h-1zM72 748h1v2h-1zM79 748h1v2h-1zM86 748h1v2h-1zM93 748h1v2h-1zM103 748h1v2h-1zM1 755h1v2h-1zM8 755h1v2h-1zM15 755h1v2h-1zM22 755h1v2h-1zM29 755h1v2h-1zM39 755h1v2h-1zM46 755h1v2h-1zM53 755h1v2h-1zM60 755h1v2h-1zM67 755h1v2h-1zM74 755h1v2h-1zM84 755h1v2h-1zM91 755h1v2h-1zM98 755h1v2h-1zM105 755h1v2h-1zM3 762h1v2h-1zM10 762h1v2h-1zM20 762h1v2h-1zM27 762h1v2h-1zM34 762h1v2h-1zM41 762h1v2h-1zM48 762h1v2h-1zM65 762h1v2h-1zM72 762h1v2h-1zM79 762h1v2h-1zM86 762h1v2h-1zM93 762h1v2h-1zM103 762h1v2h-1zM1 769h1v2h-1zM8 769h1v2h-1zM15 769h1v2h-1zM22 769h1v2h-1zM29 769h1v2h-1zM39 769h1v2h-1zM46 769h1v2h-1zM53 769h1v2h-1zM60 769h1v2h-1zM67 769h1v2h-1zM74 769h1v2h-1zM84 769h1v2h-1zM91 769h1v2h-1zM98 769h1v2h-1zM105 769h1v2h-1zM3 777h1v1h-1zM10 777h1v1h-1zM20 777h1v1h-1zM27 777h1v1h-1zM34 777h1v1h-1zM41 777h1v1h-1zM48 777h1v1h-1zM65 777h1v1h-1zM72 777h1v1h-1zM79 777h1v1h-1zM86 777h1v1h-1zM93 777h1v1h-1zM103 777h1v1h-1zM1 784h1v2h-1zM8 784h1v2h-1zM15 784h1v2h-1zM22 784h1v2h-1zM29 784h1v2h-1zM39 784h1v2h-1zM46 784h1v2h-1zM53 784h1v2h-1zM60 784h1v2h-1zM67 784h1v2h-1zM74 784h1v2h-1zM84 784h1v2h-1zM91 784h1v2h-1zM98 784h1v2h-1zM105 784h1v2h-1zM3 791h1v2h-1zM10 791h1v2h-1zM20 791h1v2h-1zM27 791h1v2h-1zM34 791h1v2h-1zM41 791h1v2h-1zM48 791h1v2h-1zM65 791h1v2h-1zM72 791h1v2h-1zM79 791h1v2h-1zM86 791h1v2h-1zM93 791h1v2h-1zM103 791h1v2h-1zM1 798h1v2h-1zM8 798h1v2h-1zM15 798h1v2h-1zM22 798h1v2h-1zM29 798h1v2h-1zM39 798h1v2h-1zM46 798h1v2h-1zM53 798h1v2h-1zM60 798h1v2h-1zM67 798h1v2h-1zM74 798h1v2h-1zM84 798h1v2h-1zM91 798h1v2h-1zM98 798h1v2h-1zM105 798h1v2h-1zM3 805h1v2h-1zM10 805h1v2h-1zM20 805h1v2h-1zM27 805h1v2h-1zM34 805h1v2h-1zM41 805h1v2h-1zM48 805h1v2h-1zM65 805h1v2h-1zM72 805h1v2h-1zM79 805h1v2h-1zM86 805h1v2h-1zM93 805h1v2h-1zM103 805h1v2h-1zM1 812h1v2h-1zM8 812h1v2h-1zM15 812h1v2h-1zM22 812h1v2h-1zM29 812h1v2h-1zM39 812h1v2h-1zM46 812h1v2h-1zM53 812h1v2h-1zM60 812h1v2h-1zM67 812h1v2h-1zM74 812h1v2h-1zM84 812h1v2h-1zM91 812h1v2h-1zM98 812h1v2h-1zM105 812h1v2h-1zM3 819h1v2h-1zM10 819h1v2h-1zM20 819h1v2h-1zM27 819h1v2h-1zM34 819h1v2h-1zM41 819h1v2h-1zM48 819h1v2h-1zM65 819h1v2h-1zM72 819h1v2h-1zM79 819h1v2h-1zM86 819h1v2h-1zM93 819h1v2h-1zM103 819h1v2h-1zM1 827h1v1h-1zM8 827h1v1h-1zM15 827h1v1h-1zM22 827h1v1h-1zM29 827h1v1h-1zM39 827h1v1h-1zM46 827h1v1h-1zM53 827h1v1h-1zM60 827h1v1h-1zM67 827h1v1h-1zM74 827h1v1h-1zM84 827h1v1h-1zM91 827h1v1h-1zM98 827h1v1h-1zM105 827h1v1h-1zM3 834h1v2h-1zM10 834h1v2h-1zM20 834h1v2h-1zM27 834h1v2h-1zM34 834h1v2h-1zM41 834h1v2h-1zM48 834h1v2h-1zM65 834h1v2h-1zM72 834h1v2h-1zM79 834h1v2h-1zM86 834h1v2h-1zM93 834h1v2h-1zM103 834h1v2h-1zM1 841h1v2h-1zM8 841h1v2h-1zM15 841h1v2h-1zM22 841h1v2h-1zM29 841h1v2h-1zM39 841h1v2h-1zM46 841h1v2h-1zM53 841h1v2h-1zM60 841h1v2h-1zM67 841h1v2h-1zM74 841h1v2h-1zM84 841h1v2h-1zM91 841h1v2h-1zM98 841h1v2h-1zM105 841h1v2h-1zM3 848h1v2h-1zM10 848h1v2h-1zM20 848h1v2h-1zM27 848h1v2h-1zM34 848h1v2h-1zM41 848h1v2h-1zM48 848h1v2h-1zM65 848h1v2h-1zM72 848h1v2h-1zM79 848h1v2h-1zM86 848h1v2h-1zM93 848h1v2h-1zM103 848h1v2h-1zM1 855h1v2h-1zM8 855h1v2h-1zM15 855h1v2h-1zM22 855h1v2h-1zM29 855h1v2h-1zM39 855h1v2h-1zM46 855h1v2h-1zM53 855h1v2h-1zM60 855h1v2h-1zM67 855h1v2h-1zM74 855h1v2h-1zM84 855h1v2h-1zM91 855h1v2h-1zM98 855h1v2h-1zM105 855h1v2h-1zM3 862h1v2h-1zM10 862h1v2h-1zM20 862h1v2h-1zM27 862h1v2h-1zM34 862h1v2h-1zM41 862h1v2h-1zM48 862h1v2h-1zM65 862h1v2h-1zM72 862h1v2h-1zM79 862h1v2h-1zM86 862h1v2h-1zM93 862h1v2h-1zM103 862h1v2h-1zM1 869h1v2h-1zM8 869h1v2h-1zM15 869h1v2h-1zM22 869h1v2h-1zM29 869h1v2h-1zM39 869h1v2h-1zM46 869h1v2h-1zM53 869h1v2h-1zM60 869h1v2h-1zM67 869h1v2h-1zM74 869h1v2h-1zM84 869h1v2h-1zM91 869h1v2h-1zM98 869h1v2h-1zM105 869h1v2h-1zM3 877h1v1h-1zM10 877h1v1h-1zM20 877h1v1h-1zM27 877h1v1h-1zM34 877h1v1h-1zM41 877h1v1h-1zM48 877h1v1h-1zM65 877h1v1h-1zM72 877h1v1h-1zM79 877h1v1h-1zM86 877h1v1h-1zM93 877h1v1h-1zM103 877h1v1h-1zM1 884h1v2h-1zM8 884h1v2h-1zM15 884h1v2h-1zM22 884h1v2h-1zM29 884h1v2h-1zM39 884h1v2h-1zM46 884h1v2h-1zM53 884h1v2h-1zM60 884h1v2h-1zM67 884h1v2h-1zM74 884h1v2h-1zM84 884h1v2h-1zM91 884h1v2h-1zM98 884h1v2h-1zM105 884h1v2h-1zM3 891h1v2h-1zM10 891h1v2h-1zM20 891h1v2h-1zM27 891h1v2h-1zM34 891h1v2h-1zM41 891h1v2h-1zM48 891h1v2h-1zM65 891h1v2h-1zM72 891h1v2h-1zM79 891h1v2h-1zM86 891h1v2h-1zM93 891h1v2h-1zM103 891h1v2h-1zM1 898h1v2h-1zM8 898h1v2h-1zM15 898h1v2h-1zM22 898h1v2h-1zM29 898h1v2h-1zM39 898h1v2h-1zM46 898h1v2h-1zM53 898h1v2h-1zM60 898h1v2h-1zM67 898h1v2h-1zM74 898h1v2h-1zM84 898h1v2h-1zM91 898h1v2h-1zM98 898h1v2h-1zM105 898h1v2h-1zM3 905h1v2h-1zM10 905h1v2h-1zM20 905h1v2h-1zM27 905h1v2h-1zM34 905h1v2h-1zM41 905h1v2h-1zM48 905h1v2h-1zM65 905h1v2h-1zM72 905h1v2h-1zM79 905h1v2h-1zM86 905h1v2h-1zM93 905h1v2h-1zM103 905h1v2h-1z" fill="#000" shape-rendering="crispEdges"/></pattern>
<pattern id="pGray" patternUnits="userSpaceOnUse" x="659" y="1060" width="38" height="52"><path d="M0 0h1v1h-1zM5 0h1v1h-1zM10 0h1v1h-1zM15 0h1v1h-1zM20 0h1v1h-1zM25 0h1v1h-1zM28 0h1v1h-1zM30 0h1v1h-1zM33 0h1v1h-1zM35 0h1v1h-1zM0 1h1v1h-1zM5 1h1v1h-1zM10 1h1v1h-1zM15 1h1v1h-1zM20 1h1v1h-1zM25 1h1v1h-1zM28 1h1v1h-1zM30 1h1v1h-1zM33 1h1v1h-1zM35 1h1v1h-1zM1 2h1v1h-1zM6 2h1v1h-1zM9 2h1v1h-1zM11 2h1v1h-1zM14 2h1v1h-1zM16 2h1v1h-1zM19 2h1v1h-1zM24 2h1v1h-1zM29 2h1v1h-1zM34 2h1v1h-1zM0 3h1v1h-1zM5 3h1v1h-1zM10 3h1v1h-1zM15 3h1v1h-1zM20 3h1v1h-1zM25 3h1v1h-1zM28 3h1v1h-1zM30 3h1v1h-1zM33 3h1v1h-1zM35 3h1v1h-1zM1 4h1v1h-1zM6 4h1v1h-1zM9 4h1v1h-1zM11 4h1v1h-1zM14 4h1v1h-1zM16 4h1v1h-1zM19 4h1v1h-1zM24 4h1v1h-1zM29 4h1v1h-1zM34 4h1v1h-1zM0 5h1v1h-1zM5 5h1v1h-1zM10 5h1v1h-1zM15 5h1v1h-1zM20 5h1v1h-1zM25 5h1v1h-1zM28 5h1v1h-1zM30 5h1v1h-1zM33 5h1v1h-1zM35 5h1v1h-1zM0 6h1v1h-1zM5 6h1v1h-1zM10 6h1v1h-1zM15 6h1v1h-1zM20 6h1v1h-1zM25 6h1v1h-1zM28 6h1v1h-1zM30 6h1v1h-1zM33 6h1v1h-1zM35 6h1v1h-1zM1 7h1v1h-1zM6 7h1v1h-1zM9 7h1v1h-1zM11 7h1v1h-1zM14 7h1v1h-1zM16 7h1v1h-1zM19 7h1v1h-1zM24 7h1v1h-1zM29 7h1v1h-1zM34 7h1v1h-1zM0 8h1v1h-1zM5 8h1v1h-1zM10 8h1v1h-1zM15 8h1v1h-1zM20 8h1v1h-1zM25 8h1v1h-1zM28 8h1v1h-1zM30 8h1v1h-1zM33 8h1v1h-1zM35 8h1v1h-1zM1 9h1v1h-1zM6 9h1v1h-1zM9 9h1v1h-1zM11 9h1v1h-1zM14 9h1v1h-1zM16 9h1v1h-1zM19 9h1v1h-1zM24 9h1v1h-1zM29 9h1v1h-1zM34 9h1v1h-1zM0 10h1v1h-1zM5 10h1v1h-1zM10 10h1v1h-1zM15 10h1v1h-1zM20 10h1v1h-1zM25 10h1v1h-1zM28 10h1v1h-1zM30 10h1v1h-1zM33 10h1v1h-1zM35 10h1v1h-1zM0 11h1v1h-1zM5 11h1v1h-1zM10 11h1v1h-1zM15 11h1v1h-1zM20 11h1v1h-1zM25 11h1v1h-1zM28 11h1v1h-1zM30 11h1v1h-1zM33 11h1v1h-1zM35 11h1v1h-1zM1 12h1v1h-1zM6 12h1v1h-1zM9 12h1v1h-1zM11 12h1v1h-1zM14 12h1v1h-1zM16 12h1v1h-1zM19 12h1v1h-1zM24 12h1v1h-1zM29 12h1v1h-1zM34 12h1v1h-1zM0 13h1v1h-1zM5 13h1v1h-1zM10 13h1v1h-1zM15 13h1v1h-1zM20 13h1v1h-1zM25 13h1v1h-1zM28 13h1v1h-1zM30 13h1v1h-1zM33 13h1v1h-1zM35 13h1v1h-1zM1 14h1v1h-1zM6 14h1v1h-1zM9 14h1v1h-1zM11 14h1v1h-1zM14 14h1v1h-1zM16 14h1v1h-1zM19 14h1v1h-1zM24 14h1v1h-1zM29 14h1v1h-1zM34 14h1v1h-1zM0 15h1v1h-1zM5 15h1v1h-1zM10 15h1v1h-1zM15 15h1v1h-1zM20 15h1v1h-1zM25 15h1v1h-1zM28 15h1v1h-1zM30 15h1v1h-1zM33 15h1v1h-1zM35 15h1v1h-1zM0 16h1v1h-1zM5 16h1v1h-1zM10 16h1v1h-1zM15 16h1v1h-1zM20 16h1v1h-1zM25 16h1v1h-1zM28 16h1v1h-1zM30 16h1v1h-1zM33 16h1v1h-1zM35 16h1v1h-1zM1 17h1v1h-1zM6 17h1v1h-1zM9 17h1v1h-1zM11 17h1v1h-1zM14 17h1v1h-1zM16 17h1v1h-1zM19 17h1v1h-1zM24 17h1v1h-1zM29 17h1v1h-1zM34 17h1v1h-1zM0 18h1v1h-1zM5 18h1v1h-1zM10 18h1v1h-1zM15 18h1v1h-1zM20 18h1v1h-1zM25 18h1v1h-1zM28 18h1v1h-1zM30 18h1v1h-1zM33 18h1v1h-1zM35 18h1v1h-1zM1 19h1v1h-1zM6 19h1v1h-1zM9 19h1v1h-1zM11 19h1v1h-1zM14 19h1v1h-1zM16 19h1v1h-1zM19 19h1v1h-1zM24 19h1v1h-1zM29 19h1v1h-1zM34 19h1v1h-1zM0 20h1v1h-1zM5 20h1v1h-1zM10 20h1v1h-1zM15 20h1v1h-1zM20 20h1v1h-1zM25 20h1v1h-1zM28 20h1v1h-1zM30 20h1v1h-1zM33 20h1v1h-1zM35 20h1v1h-1zM0 21h1v1h-1zM5 21h1v1h-1zM10 21h1v1h-1zM15 21h1v1h-1zM20 21h1v1h-1zM25 21h1v1h-1zM28 21h1v1h-1zM30 21h1v1h-1zM33 21h1v1h-1zM35 21h1v1h-1zM1 22h1v1h-1zM6 22h1v1h-1zM9 22h1v1h-1zM11 22h1v1h-1zM14 22h1v1h-1zM16 22h1v1h-1zM19 22h1v1h-1zM24 22h1v1h-1zM29 22h1v1h-1zM34 22h1v1h-1zM0 23h1v1h-1zM5 23h1v1h-1zM10 23h1v1h-1zM15 23h1v1h-1zM20 23h1v1h-1zM25 23h1v1h-1zM28 23h1v1h-1zM30 23h1v1h-1zM33 23h1v1h-1zM35 23h1v1h-1zM1 24h1v1h-1zM6 24h1v1h-1zM9 24h1v1h-1zM11 24h1v1h-1zM14 24h1v1h-1zM16 24h1v1h-1zM19 24h1v1h-1zM24 24h1v1h-1zM29 24h1v1h-1zM34 24h1v1h-1zM0 25h1v1h-1zM5 25h1v1h-1zM10 25h1v1h-1zM15 25h1v1h-1zM20 25h1v1h-1zM25 25h1v1h-1zM28 25h1v1h-1zM30 25h1v1h-1zM33 25h1v1h-1zM35 25h1v1h-1zM1 26h1v1h-1zM6 26h1v1h-1zM9 26h1v1h-1zM11 26h1v1h-1zM14 26h1v1h-1zM16 26h1v1h-1zM19 26h1v1h-1zM24 26h1v1h-1zM29 26h1v1h-1zM34 26h1v1h-1zM1 27h1v1h-1zM6 27h1v1h-1zM9 27h1v1h-1zM11 27h1v1h-1zM14 27h1v1h-1zM16 27h1v1h-1zM19 27h1v1h-1zM24 27h1v1h-1zM29 27h1v1h-1zM34 27h1v1h-1zM0 28h1v1h-1zM5 28h1v1h-1zM10 28h1v1h-1zM15 28h1v1h-1zM20 28h1v1h-1zM25 28h1v1h-1zM28 28h1v1h-1zM30 28h1v1h-1zM33 28h1v1h-1zM35 28h1v1h-1zM1 29h1v1h-1zM6 29h1v1h-1zM9 29h1v1h-1zM11 29h1v1h-1zM14 29h1v1h-1zM16 29h1v1h-1zM19 29h1v1h-1zM24 29h1v1h-1zM29 29h1v1h-1zM34 29h1v1h-1zM0 30h1v1h-1zM5 30h1v1h-1zM10 30h1v1h-1zM15 30h1v1h-1zM20 30h1v1h-1zM25 30h1v1h-1zM28 30h1v1h-1zM30 30h1v1h-1zM33 30h1v1h-1zM35 30h1v1h-1zM1 31h1v1h-1zM6 31h1v1h-1zM9 31h1v1h-1zM11 31h1v1h-1zM14 31h1v1h-1zM16 31h1v1h-1zM19 31h1v1h-1zM24 31h1v1h-1zM29 31h1v1h-1zM34 31h1v1h-1zM1 32h1v1h-1zM6 32h1v1h-1zM9 32h1v1h-1zM11 32h1v1h-1zM14 32h1v1h-1zM16 32h1v1h-1zM19 32h1v1h-1zM24 32h1v1h-1zM29 32h1v1h-1zM34 32h1v1h-1zM0 33h1v1h-1zM5 33h1v1h-1zM10 33h1v1h-1zM15 33h1v1h-1zM20 33h1v1h-1zM25 33h1v1h-1zM28 33h1v1h-1zM30 33h1v1h-1zM33 33h1v1h-1zM35 33h1v1h-1zM1 34h1v1h-1zM6 34h1v1h-1zM9 34h1v1h-1zM11 34h1v1h-1zM14 34h1v1h-1zM16 34h1v1h-1zM19 34h1v1h-1zM24 34h1v1h-1zM29 34h1v1h-1zM34 34h1v1h-1zM0 35h1v1h-1zM5 35h1v1h-1zM10 35h1v1h-1zM15 35h1v1h-1zM20 35h1v1h-1zM25 35h1v1h-1zM28 35h1v1h-1zM30 35h1v1h-1zM33 35h1v1h-1zM35 35h1v1h-1zM1 36h1v1h-1zM6 36h1v1h-1zM9 36h1v1h-1zM11 36h1v1h-1zM14 36h1v1h-1zM16 36h1v1h-1zM19 36h1v1h-1zM24 36h1v1h-1zM29 36h1v1h-1zM34 36h1v1h-1zM1 37h1v1h-1zM6 37h1v1h-1zM9 37h1v1h-1zM11 37h1v1h-1zM14 37h1v1h-1zM16 37h1v1h-1zM19 37h1v1h-1zM24 37h1v1h-1zM29 37h1v1h-1zM34 37h1v1h-1zM0 38h1v1h-1zM5 38h1v1h-1zM10 38h1v1h-1zM15 38h1v1h-1zM20 38h1v1h-1zM25 38h1v1h-1zM28 38h1v1h-1zM30 38h1v1h-1zM33 38h1v1h-1zM35 38h1v1h-1zM1 39h1v1h-1zM6 39h1v1h-1zM9 39h1v1h-1zM11 39h1v1h-1zM14 39h1v1h-1zM16 39h1v1h-1zM19 39h1v1h-1zM24 39h1v1h-1zM29 39h1v1h-1zM34 39h1v1h-1zM0 40h1v1h-1zM5 40h1v1h-1zM10 40h1v1h-1zM15 40h1v1h-1zM20 40h1v1h-1zM25 40h1v1h-1zM28 40h1v1h-1zM30 40h1v1h-1zM33 40h1v1h-1zM35 40h1v1h-1zM1 41h1v1h-1zM6 41h1v1h-1zM9 41h1v1h-1zM11 41h1v1h-1zM14 41h1v1h-1zM16 41h1v1h-1zM19 41h1v1h-1zM24 41h1v1h-1zM29 41h1v1h-1zM34 41h1v1h-1zM1 42h1v1h-1zM6 42h1v1h-1zM9 42h1v1h-1zM11 42h1v1h-1zM14 42h1v1h-1zM16 42h1v1h-1zM19 42h1v1h-1zM24 42h1v1h-1zM29 42h1v1h-1zM34 42h1v1h-1zM0 43h1v1h-1zM5 43h1v1h-1zM10 43h1v1h-1zM15 43h1v1h-1zM20 43h1v1h-1zM25 43h1v1h-1zM28 43h1v1h-1zM30 43h1v1h-1zM33 43h1v1h-1zM35 43h1v1h-1zM1 44h1v1h-1zM6 44h1v1h-1zM9 44h1v1h-1zM11 44h1v1h-1zM14 44h1v1h-1zM16 44h1v1h-1zM19 44h1v1h-1zM24 44h1v1h-1zM29 44h1v1h-1zM34 44h1v1h-1zM0 45h1v1h-1zM5 45h1v1h-1zM10 45h1v1h-1zM15 45h1v1h-1zM20 45h1v1h-1zM25 45h1v1h-1zM28 45h1v1h-1zM30 45h1v1h-1zM33 45h1v1h-1zM35 45h1v1h-1zM1 46h1v1h-1zM6 46h1v1h-1zM9 46h1v1h-1zM11 46h1v1h-1zM14 46h1v1h-1zM16 46h1v1h-1zM19 46h1v1h-1zM24 46h1v1h-1zM29 46h1v1h-1zM34 46h1v1h-1zM1 47h1v1h-1zM6 47h1v1h-1zM9 47h1v1h-1zM11 47h1v1h-1zM14 47h1v1h-1zM16 47h1v1h-1zM19 47h1v1h-1zM24 47h1v1h-1zM29 47h1v1h-1zM34 47h1v1h-1zM0 48h1v1h-1zM5 48h1v1h-1zM10 48h1v1h-1zM15 48h1v1h-1zM20 48h1v1h-1zM25 48h1v1h-1zM28 48h1v1h-1zM30 48h1v1h-1zM33 48h1v1h-1zM35 48h1v1h-1zM1 49h1v1h-1zM6 49h1v1h-1zM9 49h1v1h-1zM11 49h1v1h-1zM14 49h1v1h-1zM16 49h1v1h-1zM19 49h1v1h-1zM24 49h1v1h-1zM29 49h1v1h-1zM34 49h1v1h-1zM0 50h1v1h-1zM5 50h1v1h-1zM10 50h1v1h-1zM15 50h1v1h-1zM20 50h1v1h-1zM25 50h1v1h-1zM28 50h1v1h-1zM30 50h1v1h-1zM33 50h1v1h-1zM35 50h1v1h-1zM1 51h1v1h-1zM6 51h1v1h-1zM9 51h1v1h-1zM11 51h1v1h-1zM14 51h1v1h-1zM16 51h1v1h-1zM19 51h1v1h-1zM24 51h1v1h-1zM29 51h1v1h-1zM34 51h1v1h-1z" fill="#a6a6a6" shape-rendering="crispEdges"/></pattern>
<pattern id="pGray2" patternUnits="userSpaceOnUse" x="1350" y="1051" width="38" height="52"><path d="M0 0h1v1h-1zM5 0h1v1h-1zM10 0h1v1h-1zM15 0h1v1h-1zM20 0h1v1h-1zM25 0h1v1h-1zM28 0h1v1h-1zM30 0h1v1h-1zM33 0h1v1h-1zM35 0h1v1h-1zM0 1h1v1h-1zM5 1h1v1h-1zM10 1h1v1h-1zM15 1h1v1h-1zM20 1h1v1h-1zM25 1h1v1h-1zM28 1h1v1h-1zM30 1h1v1h-1zM33 1h1v1h-1zM35 1h1v1h-1zM1 2h1v1h-1zM6 2h1v1h-1zM9 2h1v1h-1zM11 2h1v1h-1zM14 2h1v1h-1zM16 2h1v1h-1zM19 2h1v1h-1zM24 2h1v1h-1zM29 2h1v1h-1zM34 2h1v1h-1zM0 3h1v1h-1zM5 3h1v1h-1zM10 3h1v1h-1zM15 3h1v1h-1zM20 3h1v1h-1zM25 3h1v1h-1zM28 3h1v1h-1zM30 3h1v1h-1zM33 3h1v1h-1zM35 3h1v1h-1zM1 4h1v1h-1zM6 4h1v1h-1zM9 4h1v1h-1zM11 4h1v1h-1zM14 4h1v1h-1zM16 4h1v1h-1zM19 4h1v1h-1zM24 4h1v1h-1zM29 4h1v1h-1zM34 4h1v1h-1zM0 5h1v1h-1zM5 5h1v1h-1zM10 5h1v1h-1zM15 5h1v1h-1zM20 5h1v1h-1zM25 5h1v1h-1zM28 5h1v1h-1zM30 5h1v1h-1zM33 5h1v1h-1zM35 5h1v1h-1zM0 6h1v1h-1zM5 6h1v1h-1zM10 6h1v1h-1zM15 6h1v1h-1zM20 6h1v1h-1zM25 6h1v1h-1zM28 6h1v1h-1zM30 6h1v1h-1zM33 6h1v1h-1zM35 6h1v1h-1zM1 7h1v1h-1zM6 7h1v1h-1zM9 7h1v1h-1zM11 7h1v1h-1zM14 7h1v1h-1zM16 7h1v1h-1zM19 7h1v1h-1zM24 7h1v1h-1zM29 7h1v1h-1zM34 7h1v1h-1zM0 8h1v1h-1zM5 8h1v1h-1zM10 8h1v1h-1zM15 8h1v1h-1zM20 8h1v1h-1zM25 8h1v1h-1zM28 8h1v1h-1zM30 8h1v1h-1zM33 8h1v1h-1zM35 8h1v1h-1zM1 9h1v1h-1zM6 9h1v1h-1zM9 9h1v1h-1zM11 9h1v1h-1zM14 9h1v1h-1zM16 9h1v1h-1zM19 9h1v1h-1zM24 9h1v1h-1zM29 9h1v1h-1zM34 9h1v1h-1zM0 10h1v1h-1zM5 10h1v1h-1zM10 10h1v1h-1zM15 10h1v1h-1zM20 10h1v1h-1zM25 10h1v1h-1zM28 10h1v1h-1zM30 10h1v1h-1zM33 10h1v1h-1zM35 10h1v1h-1zM0 11h1v1h-1zM5 11h1v1h-1zM10 11h1v1h-1zM15 11h1v1h-1zM20 11h1v1h-1zM25 11h1v1h-1zM28 11h1v1h-1zM30 11h1v1h-1zM33 11h1v1h-1zM35 11h1v1h-1zM1 12h1v1h-1zM6 12h1v1h-1zM9 12h1v1h-1zM11 12h1v1h-1zM14 12h1v1h-1zM16 12h1v1h-1zM19 12h1v1h-1zM24 12h1v1h-1zM29 12h1v1h-1zM34 12h1v1h-1zM0 13h1v1h-1zM5 13h1v1h-1zM10 13h1v1h-1zM15 13h1v1h-1zM20 13h1v1h-1zM25 13h1v1h-1zM28 13h1v1h-1zM30 13h1v1h-1zM33 13h1v1h-1zM35 13h1v1h-1zM1 14h1v1h-1zM6 14h1v1h-1zM9 14h1v1h-1zM11 14h1v1h-1zM14 14h1v1h-1zM16 14h1v1h-1zM19 14h1v1h-1zM24 14h1v1h-1zM29 14h1v1h-1zM34 14h1v1h-1zM0 15h1v1h-1zM5 15h1v1h-1zM10 15h1v1h-1zM15 15h1v1h-1zM20 15h1v1h-1zM25 15h1v1h-1zM28 15h1v1h-1zM30 15h1v1h-1zM33 15h1v1h-1zM35 15h1v1h-1zM0 16h1v1h-1zM5 16h1v1h-1zM10 16h1v1h-1zM15 16h1v1h-1zM20 16h1v1h-1zM25 16h1v1h-1zM28 16h1v1h-1zM30 16h1v1h-1zM33 16h1v1h-1zM35 16h1v1h-1zM1 17h1v1h-1zM6 17h1v1h-1zM9 17h1v1h-1zM11 17h1v1h-1zM14 17h1v1h-1zM16 17h1v1h-1zM19 17h1v1h-1zM24 17h1v1h-1zM29 17h1v1h-1zM34 17h1v1h-1zM0 18h1v1h-1zM5 18h1v1h-1zM10 18h1v1h-1zM15 18h1v1h-1zM20 18h1v1h-1zM25 18h1v1h-1zM28 18h1v1h-1zM30 18h1v1h-1zM33 18h1v1h-1zM35 18h1v1h-1zM1 19h1v1h-1zM6 19h1v1h-1zM9 19h1v1h-1zM11 19h1v1h-1zM14 19h1v1h-1zM16 19h1v1h-1zM19 19h1v1h-1zM24 19h1v1h-1zM29 19h1v1h-1zM34 19h1v1h-1zM0 20h1v1h-1zM5 20h1v1h-1zM10 20h1v1h-1zM15 20h1v1h-1zM20 20h1v1h-1zM25 20h1v1h-1zM28 20h1v1h-1zM30 20h1v1h-1zM33 20h1v1h-1zM35 20h1v1h-1zM0 21h1v1h-1zM5 21h1v1h-1zM10 21h1v1h-1zM15 21h1v1h-1zM20 21h1v1h-1zM25 21h1v1h-1zM28 21h1v1h-1zM30 21h1v1h-1zM33 21h1v1h-1zM35 21h1v1h-1zM1 22h1v1h-1zM6 22h1v1h-1zM9 22h1v1h-1zM11 22h1v1h-1zM14 22h1v1h-1zM16 22h1v1h-1zM19 22h1v1h-1zM24 22h1v1h-1zM29 22h1v1h-1zM34 22h1v1h-1zM0 23h1v1h-1zM5 23h1v1h-1zM10 23h1v1h-1zM15 23h1v1h-1zM20 23h1v1h-1zM25 23h1v1h-1zM28 23h1v1h-1zM30 23h1v1h-1zM33 23h1v1h-1zM35 23h1v1h-1zM1 24h1v1h-1zM6 24h1v1h-1zM9 24h1v1h-1zM11 24h1v1h-1zM14 24h1v1h-1zM16 24h1v1h-1zM19 24h1v1h-1zM24 24h1v1h-1zM29 24h1v1h-1zM34 24h1v1h-1zM0 25h1v1h-1zM5 25h1v1h-1zM10 25h1v1h-1zM15 25h1v1h-1zM20 25h1v1h-1zM25 25h1v1h-1zM28 25h1v1h-1zM30 25h1v1h-1zM33 25h1v1h-1zM35 25h1v1h-1zM1 26h1v1h-1zM6 26h1v1h-1zM9 26h1v1h-1zM11 26h1v1h-1zM14 26h1v1h-1zM16 26h1v1h-1zM19 26h1v1h-1zM24 26h1v1h-1zM29 26h1v1h-1zM34 26h1v1h-1zM1 27h1v1h-1zM6 27h1v1h-1zM9 27h1v1h-1zM11 27h1v1h-1zM14 27h1v1h-1zM16 27h1v1h-1zM19 27h1v1h-1zM24 27h1v1h-1zM29 27h1v1h-1zM34 27h1v1h-1zM0 28h1v1h-1zM5 28h1v1h-1zM10 28h1v1h-1zM15 28h1v1h-1zM20 28h1v1h-1zM25 28h1v1h-1zM28 28h1v1h-1zM30 28h1v1h-1zM33 28h1v1h-1zM35 28h1v1h-1zM1 29h1v1h-1zM6 29h1v1h-1zM9 29h1v1h-1zM11 29h1v1h-1zM14 29h1v1h-1zM16 29h1v1h-1zM19 29h1v1h-1zM24 29h1v1h-1zM29 29h1v1h-1zM34 29h1v1h-1zM0 30h1v1h-1zM5 30h1v1h-1zM10 30h1v1h-1zM15 30h1v1h-1zM20 30h1v1h-1zM25 30h1v1h-1zM28 30h1v1h-1zM30 30h1v1h-1zM33 30h1v1h-1zM35 30h1v1h-1zM1 31h1v1h-1zM6 31h1v1h-1zM9 31h1v1h-1zM11 31h1v1h-1zM14 31h1v1h-1zM16 31h1v1h-1zM19 31h1v1h-1zM24 31h1v1h-1zM29 31h1v1h-1zM34 31h1v1h-1zM1 32h1v1h-1zM6 32h1v1h-1zM9 32h1v1h-1zM11 32h1v1h-1zM14 32h1v1h-1zM16 32h1v1h-1zM19 32h1v1h-1zM24 32h1v1h-1zM29 32h1v1h-1zM34 32h1v1h-1zM0 33h1v1h-1zM5 33h1v1h-1zM10 33h1v1h-1zM15 33h1v1h-1zM20 33h1v1h-1zM25 33h1v1h-1zM28 33h1v1h-1zM30 33h1v1h-1zM33 33h1v1h-1zM35 33h1v1h-1zM1 34h1v1h-1zM6 34h1v1h-1zM9 34h1v1h-1zM11 34h1v1h-1zM14 34h1v1h-1zM16 34h1v1h-1zM19 34h1v1h-1zM24 34h1v1h-1zM29 34h1v1h-1zM34 34h1v1h-1zM0 35h1v1h-1zM5 35h1v1h-1zM10 35h1v1h-1zM15 35h1v1h-1zM20 35h1v1h-1zM25 35h1v1h-1zM28 35h1v1h-1zM30 35h1v1h-1zM33 35h1v1h-1zM35 35h1v1h-1zM1 36h1v1h-1zM6 36h1v1h-1zM9 36h1v1h-1zM11 36h1v1h-1zM14 36h1v1h-1zM16 36h1v1h-1zM19 36h1v1h-1zM24 36h1v1h-1zM29 36h1v1h-1zM34 36h1v1h-1zM1 37h1v1h-1zM6 37h1v1h-1zM9 37h1v1h-1zM11 37h1v1h-1zM14 37h1v1h-1zM16 37h1v1h-1zM19 37h1v1h-1zM24 37h1v1h-1zM29 37h1v1h-1zM34 37h1v1h-1zM0 38h1v1h-1zM5 38h1v1h-1zM10 38h1v1h-1zM15 38h1v1h-1zM20 38h1v1h-1zM25 38h1v1h-1zM28 38h1v1h-1zM30 38h1v1h-1zM33 38h1v1h-1zM35 38h1v1h-1zM1 39h1v1h-1zM6 39h1v1h-1zM9 39h1v1h-1zM11 39h1v1h-1zM14 39h1v1h-1zM16 39h1v1h-1zM19 39h1v1h-1zM24 39h1v1h-1zM29 39h1v1h-1zM34 39h1v1h-1zM0 40h1v1h-1zM5 40h1v1h-1zM10 40h1v1h-1zM15 40h1v1h-1zM20 40h1v1h-1zM25 40h1v1h-1zM28 40h1v1h-1zM30 40h1v1h-1zM33 40h1v1h-1zM35 40h1v1h-1zM1 41h1v1h-1zM6 41h1v1h-1zM9 41h1v1h-1zM11 41h1v1h-1zM14 41h1v1h-1zM16 41h1v1h-1zM19 41h1v1h-1zM24 41h1v1h-1zM29 41h1v1h-1zM34 41h1v1h-1zM1 42h1v1h-1zM6 42h1v1h-1zM9 42h1v1h-1zM11 42h1v1h-1zM14 42h1v1h-1zM16 42h1v1h-1zM19 42h1v1h-1zM24 42h1v1h-1zM29 42h1v1h-1zM34 42h1v1h-1zM0 43h1v1h-1zM5 43h1v1h-1zM10 43h1v1h-1zM15 43h1v1h-1zM20 43h1v1h-1zM25 43h1v1h-1zM28 43h1v1h-1zM30 43h1v1h-1zM33 43h1v1h-1zM35 43h1v1h-1zM1 44h1v1h-1zM6 44h1v1h-1zM9 44h1v1h-1zM11 44h1v1h-1zM14 44h1v1h-1zM16 44h1v1h-1zM19 44h1v1h-1zM24 44h1v1h-1zM29 44h1v1h-1zM34 44h1v1h-1zM0 45h1v1h-1zM5 45h1v1h-1zM10 45h1v1h-1zM15 45h1v1h-1zM20 45h1v1h-1zM25 45h1v1h-1zM28 45h1v1h-1zM30 45h1v1h-1zM33 45h1v1h-1zM35 45h1v1h-1zM1 46h1v1h-1zM6 46h1v1h-1zM9 46h1v1h-1zM11 46h1v1h-1zM14 46h1v1h-1zM16 46h1v1h-1zM19 46h1v1h-1zM24 46h1v1h-1zM29 46h1v1h-1zM34 46h1v1h-1zM1 47h1v1h-1zM6 47h1v1h-1zM9 47h1v1h-1zM11 47h1v1h-1zM14 47h1v1h-1zM16 47h1v1h-1zM19 47h1v1h-1zM24 47h1v1h-1zM29 47h1v1h-1zM34 47h1v1h-1zM0 48h1v1h-1zM5 48h1v1h-1zM10 48h1v1h-1zM15 48h1v1h-1zM20 48h1v1h-1zM25 48h1v1h-1zM28 48h1v1h-1zM30 48h1v1h-1zM33 48h1v1h-1zM35 48h1v1h-1zM1 49h1v1h-1zM6 49h1v1h-1zM9 49h1v1h-1zM11 49h1v1h-1zM14 49h1v1h-1zM16 49h1v1h-1zM19 49h1v1h-1zM24 49h1v1h-1zM29 49h1v1h-1zM34 49h1v1h-1zM0 50h1v1h-1zM5 50h1v1h-1zM10 50h1v1h-1zM15 50h1v1h-1zM20 50h1v1h-1zM25 50h1v1h-1zM28 50h1v1h-1zM30 50h1v1h-1zM33 50h1v1h-1zM35 50h1v1h-1zM1 51h1v1h-1zM6 51h1v1h-1zM9 51h1v1h-1zM11 51h1v1h-1zM14 51h1v1h-1zM16 51h1v1h-1zM19 51h1v1h-1zM24 51h1v1h-1zM29 51h1v1h-1zM34 51h1v1h-1z" fill="#a6a6a6" shape-rendering="crispEdges"/></pattern>
<pattern id="pV1" patternUnits="userSpaceOnUse" x="197" y="246" width="5" height="5"><g fill="#000" shape-rendering="crispEdges"><rect x="0" y="2" width="1" height="1"/><rect x="0" y="4" width="1" height="1"/></g></pattern>
<pattern id="pV2" patternUnits="userSpaceOnUse" x="197" y="272" width="5" height="5"><g fill="#000" shape-rendering="crispEdges"><rect x="0" y="0" width="1" height="2"/><rect x="0" y="3" width="1" height="1"/></g></pattern>
<pattern id="pV3" patternUnits="userSpaceOnUse" x="261" y="246" width="5" height="5"><g fill="#000" shape-rendering="crispEdges"><rect x="0" y="0" width="1" height="2"/><rect x="1" y="2" width="1" height="1"/><rect x="0" y="3" width="1" height="1"/><rect x="1" y="4" width="1" height="1"/></g></pattern>
<pattern id="pV4" patternUnits="userSpaceOnUse" x="261" y="272" width="5" height="5"><g fill="#000" shape-rendering="crispEdges"><rect x="1" y="0" width="1" height="2"/><rect x="0" y="2" width="1" height="1"/><rect x="1" y="3" width="1" height="1"/><rect x="0" y="4" width="1" height="1"/></g></pattern>
<pattern id="pV5" patternUnits="userSpaceOnUse" x="281" y="246" width="5" height="5"><g fill="#000" shape-rendering="crispEdges"><rect x="0" y="0" width="1" height="2"/><rect x="0" y="3" width="1" height="1"/></g></pattern>
<pattern id="pV6" patternUnits="userSpaceOnUse" x="281" y="272" width="5" height="5"><g fill="#000" shape-rendering="crispEdges"><rect x="0" y="2" width="1" height="1"/><rect x="0" y="4" width="1" height="1"/></g></pattern>
<clipPath id="c1"><rect x="217" y="1114" width="106" height="74"/></clipPath>
<clipPath id="c2"><rect x="327" y="964" width="107" height="224"/></clipPath>
<clipPath id="c3"><rect x="546" y="1078" width="106" height="114"/></clipPath>
<clipPath id="c4"><rect x="904" y="1105" width="107" height="83"/></clipPath>
<clipPath id="c5"><rect x="1015" y="947" width="107" height="241"/></clipPath>
<clipPath id="c6"><rect x="1236" y="1072" width="107" height="120"/></clipPath>
<clipPath id="c7"><rect x="193" y="10" width="100" height="50"/></clipPath>
<clipPath id="c8"><rect x="193" y="70" width="100" height="46"/></clipPath>
<clipPath id="c9"><rect x="193" y="186" width="100" height="47"/></clipPath>
</defs>
<rect x="0" y="0" width="1527" height="1332" fill="#fff"/>
<rect x="144" y="82" width="4" height="1110" fill="#000"/>
<rect x="144" y="1188" width="1382" height="4" fill="#000"/>
<rect x="148" y="82" width="21" height="4" fill="#000"/>
<rect x="148" y="264" width="21" height="4" fill="#000"/>
<rect x="148" y="450" width="21" height="4" fill="#000"/>
<rect x="148" y="635" width="21" height="4" fill="#000"/>
<rect x="148" y="820" width="21" height="4" fill="#000"/>
<rect x="148" y="1005" width="21" height="4" fill="#000"/>
<rect x="148" y="175" width="9" height="4" fill="#000"/>
<rect x="148" y="357" width="9" height="4" fill="#000"/>
<rect x="148" y="542" width="9" height="4" fill="#000"/>
<rect x="148" y="727" width="9" height="4" fill="#000"/>
<rect x="148" y="913" width="9" height="4" fill="#000"/>
<rect x="148" y="1095" width="9" height="4" fill="#000"/>
<rect x="488" y="1167" width="4" height="21" fill="#000"/>
<rect x="1176" y="1167" width="4" height="21" fill="#000"/>
<rect x="832" y="1179" width="4" height="9" fill="#000"/>
<rect x="1522" y="1179" width="4" height="9" fill="#000"/>
<path clip-path="url(#c1)" d="M207 1104.90L333 978.90M207 1119.80L333 993.80M207 1134.70L333 1008.70M207 1149.60L333 1023.60M207 1164.50L333 1038.50M207 1179.40L333 1053.40M207 1194.30L333 1068.30M207 1209.20L333 1083.20M207 1224.10L333 1098.10M207 1239.00L333 1113.00M207 1253.90L333 1127.90M207 1268.80L333 1142.80M207 1283.70L333 1157.70M207 1298.60L333 1172.60M207 1313.50L333 1187.50M207 1328.40L333 1202.40" stroke="#000" stroke-width="4.6" fill="none"/>
<path clip-path="url(#c2)" d="M317 824.90L444 951.90M317 839.50L444 966.50M317 854.10L444 981.10M317 868.70L444 995.70M317 883.30L444 1010.30M317 897.90L444 1024.90M317 912.50L444 1039.50M317 927.10L444 1054.10M317 941.70L444 1068.70M317 956.30L444 1083.30M317 970.90L444 1097.90M317 985.50L444 1112.50M317 1000.10L444 1127.10M317 1014.70L444 1141.70M317 1029.30L444 1156.30M317 1043.90L444 1170.90M317 1058.50L444 1185.50M317 1073.10L444 1200.10M317 1087.70L444 1214.70M317 1102.30L444 1229.30M317 1116.90L444 1243.90M317 1131.50L444 1258.50M317 1146.10L444 1273.10M317 1160.70L444 1287.70M317 1175.30L444 1302.30M317 1189.90L444 1316.90M317 1204.50L444 1331.50" stroke="#000" stroke-width="5.1" fill="none"/>
<rect x="438" y="400" width="104" height="788" fill="url(#pDotA)"/>
<g clip-path="url(#c3)">
<rect x="545" y="1078" width="4" height="114" fill="#000"/>
<rect x="565" y="1078" width="4" height="114" fill="#000"/>
<rect x="586" y="1078" width="4" height="114" fill="#000"/>
<rect x="610" y="1078" width="4" height="114" fill="#000"/>
<rect x="631" y="1078" width="4" height="114" fill="#000"/>
<rect x="546" y="1098" width="106" height="4" fill="#000"/>
<rect x="546" y="1119" width="106" height="4" fill="#000"/>
<rect x="546" y="1140" width="106" height="4" fill="#000"/>
<rect x="546" y="1164" width="106" height="4" fill="#000"/>
<rect x="546" y="1185" width="106" height="4" fill="#000"/>
</g>
<rect x="658" y="1060" width="105" height="128" fill="url(#pGray)"/>
<rect x="213" y="1110" width="114" height="4" fill="#000"/>
<rect x="213" y="1110" width="4" height="78" fill="#000"/>
<rect x="323" y="1110" width="4" height="78" fill="#000"/>
<rect x="323" y="960" width="115" height="4" fill="#000"/>
<rect x="323" y="960" width="4" height="228" fill="#000"/>
<rect x="434" y="960" width="4" height="228" fill="#000"/>
<rect x="434" y="396" width="112" height="4" fill="#000"/>
<rect x="434" y="396" width="4" height="792" fill="#000"/>
<rect x="542" y="396" width="4" height="792" fill="#000"/>
<rect x="542" y="1074" width="114" height="4" fill="#000"/>
<rect x="542" y="1074" width="4" height="114" fill="#000"/>
<rect x="652" y="1074" width="4" height="114" fill="#000"/>
<rect x="652" y="1056" width="115" height="4" fill="#000"/>
<rect x="652" y="1056" width="4" height="132" fill="#000"/>
<rect x="763" y="1056" width="4" height="132" fill="#000"/>
<path clip-path="url(#c4)" d="M894 1095.90L1021 968.90M894 1110.90L1021 983.90M894 1125.90L1021 998.90M894 1140.90L1021 1013.90M894 1155.90L1021 1028.90M894 1170.90L1021 1043.90M894 1185.90L1021 1058.90M894 1200.90L1021 1073.90M894 1215.90L1021 1088.90M894 1230.90L1021 1103.90M894 1245.90L1021 1118.90M894 1260.90L1021 1133.90M894 1275.90L1021 1148.90M894 1290.90L1021 1163.90M894 1305.90L1021 1178.90M894 1320.90L1021 1193.90" stroke="#000" stroke-width="4.6" fill="none"/>
<path clip-path="url(#c5)" d="M1005 800.48L1132 927.48M1005 815.41L1132 942.41M1005 830.34L1132 957.34M1005 845.27L1132 972.27M1005 860.20L1132 987.20M1005 875.13L1132 1002.13M1005 890.06L1132 1017.06M1005 904.99L1132 1031.99M1005 919.92L1132 1046.92M1005 934.85L1132 1061.85M1005 949.78L1132 1076.78M1005 964.71L1132 1091.71M1005 979.64L1132 1106.64M1005 994.57L1132 1121.57M1005 1009.50L1132 1136.50M1005 1024.43L1132 1151.43M1005 1039.36L1132 1166.36M1005 1054.29L1132 1181.29M1005 1069.22L1132 1196.22M1005 1084.15L1132 1211.15M1005 1099.08L1132 1226.08M1005 1114.01L1132 1241.01M1005 1128.94L1132 1255.94M1005 1143.87L1132 1270.87M1005 1158.80L1132 1285.80M1005 1173.73L1132 1300.73M1005 1188.66L1132 1315.66M1005 1203.59L1132 1330.59" stroke="#000" stroke-width="5.1" fill="none"/>
<rect x="1126" y="277" width="106" height="911" fill="url(#pDotB)"/>
<g clip-path="url(#c6)">
<rect x="1253" y="1072" width="4" height="120" fill="#000"/>
<rect x="1277" y="1072" width="4" height="120" fill="#000"/>
<rect x="1298" y="1072" width="4" height="120" fill="#000"/>
<rect x="1319" y="1072" width="4" height="120" fill="#000"/>
<rect x="1236" y="1089" width="107" height="4" fill="#000"/>
<rect x="1236" y="1113" width="107" height="4" fill="#000"/>
<rect x="1236" y="1134" width="107" height="4" fill="#000"/>
<rect x="1236" y="1155" width="107" height="4" fill="#000"/>
<rect x="1236" y="1179" width="107" height="4" fill="#000"/>
</g>
<rect x="1349" y="1051" width="105" height="137" fill="url(#pGray2)"/>
<rect x="900" y="1101" width="115" height="4" fill="#000"/>
<rect x="900" y="1101" width="4" height="87" fill="#000"/>
<rect x="1011" y="1101" width="4" height="87" fill="#000"/>
<rect x="1011" y="943" width="115" height="4" fill="#000"/>
<rect x="1011" y="943" width="4" height="245" fill="#000"/>
<rect x="1122" y="943" width="4" height="245" fill="#000"/>
<rect x="1122" y="273" width="114" height="4" fill="#000"/>
<rect x="1122" y="273" width="4" height="915" fill="#000"/>
<rect x="1232" y="273" width="4" height="915" fill="#000"/>
<rect x="1232" y="1068" width="115" height="4" fill="#000"/>
<rect x="1232" y="1068" width="4" height="120" fill="#000"/>
<rect x="1343" y="1068" width="4" height="120" fill="#000"/>
<rect x="1343" y="1047" width="115" height="4" fill="#000"/>
<rect x="1343" y="1047" width="4" height="141" fill="#000"/>
<rect x="1454" y="1047" width="4" height="141" fill="#000"/>
<path clip-path="url(#c7)" d="M183 3.90L303 -116.10M183 18.50L303 -101.50M183 33.10L303 -86.90M183 47.70L303 -72.30M183 62.30L303 -57.70M183 76.90L303 -43.10M183 91.50L303 -28.50M183 106.10L303 -13.90M183 120.70L303 0.70M183 135.30L303 15.30M183 149.90L303 29.90M183 164.50L303 44.50M183 179.10L303 59.10M183 193.70L303 73.70" stroke="#000" stroke-width="3.9" fill="none"/>
<path clip-path="url(#c8)" d="M183 -56.30L303 63.70M183 -41.70L303 78.30M183 -27.10L303 92.90M183 -12.50L303 107.50M183 2.10L303 122.10M183 16.70L303 136.70M183 31.30L303 151.30M183 45.90L303 165.90M183 60.50L303 180.50M183 75.10L303 195.10M183 89.70L303 209.70M183 104.30L303 224.30M183 118.90L303 238.90M183 133.50L303 253.50" stroke="#000" stroke-width="5" fill="none"/>
<g fill="#000" shape-rendering="crispEdges"><rect x="197" y="133" width="1" height="1"/><rect x="202" y="133" width="1" height="1"/><rect x="207" y="133" width="1" height="1"/><rect x="212" y="133" width="1" height="1"/><rect x="217" y="133" width="1" height="1"/><rect x="222" y="133" width="1" height="1"/><rect x="227" y="133" width="1" height="1"/><rect x="232" y="133" width="1" height="1"/><rect x="237" y="133" width="1" height="1"/><rect x="242" y="133" width="1" height="1"/><rect x="247" y="133" width="1" height="1"/><rect x="252" y="133" width="1" height="1"/><rect x="257" y="133" width="1" height="1"/><rect x="262" y="133" width="1" height="1"/><rect x="267" y="133" width="1" height="1"/><rect x="272" y="133" width="1" height="1"/><rect x="277" y="133" width="1" height="1"/><rect x="197" y="155" width="1" height="1"/><rect x="202" y="155" width="1" height="1"/><rect x="207" y="155" width="1" height="1"/><rect x="212" y="155" width="1" height="1"/><rect x="217" y="155" width="1" height="1"/><rect x="222" y="155" width="1" height="1"/><rect x="227" y="155" width="1" height="1"/><rect x="232" y="155" width="1" height="1"/><rect x="237" y="155" width="1" height="1"/><rect x="242" y="155" width="1" height="1"/><rect x="247" y="155" width="1" height="1"/><rect x="252" y="155" width="1" height="1"/><rect x="257" y="155" width="1" height="1"/><rect x="262" y="155" width="1" height="1"/><rect x="267" y="155" width="1" height="1"/><rect x="272" y="155" width="1" height="1"/><rect x="277" y="155" width="1" height="1"/><rect x="197" y="160" width="1" height="1"/><rect x="202" y="160" width="1" height="1"/><rect x="207" y="160" width="1" height="1"/><rect x="212" y="160" width="1" height="1"/><rect x="217" y="160" width="1" height="1"/><rect x="222" y="160" width="1" height="1"/><rect x="227" y="160" width="1" height="1"/><rect x="232" y="160" width="1" height="1"/><rect x="237" y="160" width="1" height="1"/><rect x="242" y="160" width="1" height="1"/><rect x="247" y="160" width="1" height="1"/><rect x="252" y="160" width="1" height="1"/><rect x="257" y="160" width="1" height="1"/><rect x="262" y="160" width="1" height="1"/><rect x="267" y="160" width="1" height="1"/><rect x="272" y="160" width="1" height="1"/><rect x="277" y="160" width="1" height="1"/><rect x="197" y="165" width="1" height="1"/><rect x="202" y="165" width="1" height="1"/><rect x="207" y="165" width="1" height="1"/><rect x="212" y="165" width="1" height="1"/><rect x="217" y="165" width="1" height="1"/><rect x="222" y="165" width="1" height="1"/><rect x="227" y="165" width="1" height="1"/><rect x="232" y="165" width="1" height="1"/><rect x="237" y="165" width="1" height="1"/><rect x="242" y="165" width="1" height="1"/><rect x="247" y="165" width="1" height="1"/><rect x="252" y="165" width="1" height="1"/><rect x="257" y="165" width="1" height="1"/><rect x="262" y="165" width="1" height="1"/><rect x="267" y="165" width="1" height="1"/><rect x="272" y="165" width="1" height="1"/><rect x="277" y="165" width="1" height="1"/><rect x="197" y="170" width="1" height="1"/><rect x="202" y="170" width="1" height="1"/><rect x="207" y="170" width="1" height="1"/><rect x="212" y="170" width="1" height="1"/><rect x="217" y="170" width="1" height="1"/><rect x="222" y="170" width="1" height="1"/><rect x="227" y="170" width="1" height="1"/><rect x="232" y="170" width="1" height="1"/><rect x="237" y="170" width="1" height="1"/><rect x="242" y="170" width="1" height="1"/><rect x="247" y="170" width="1" height="1"/><rect x="252" y="170" width="1" height="1"/><rect x="257" y="170" width="1" height="1"/><rect x="262" y="170" width="1" height="1"/><rect x="267" y="170" width="1" height="1"/><rect x="272" y="170" width="1" height="1"/><rect x="277" y="170" width="1" height="1"/><rect x="197" y="175" width="1" height="1"/><rect x="202" y="175" width="1" height="1"/><rect x="207" y="175" width="1" height="1"/><rect x="212" y="175" width="1" height="1"/><rect x="217" y="175" width="1" height="1"/><rect x="222" y="175" width="1" height="1"/><rect x="227" y="175" width="1" height="1"/><rect x="232" y="175" width="1" height="1"/><rect x="237" y="175" width="1" height="1"/><rect x="242" y="175" width="1" height="1"/><rect x="247" y="175" width="1" height="1"/><rect x="252" y="175" width="1" height="1"/><rect x="257" y="175" width="1" height="1"/><rect x="262" y="175" width="1" height="1"/><rect x="267" y="175" width="1" height="1"/><rect x="272" y="175" width="1" height="1"/><rect x="277" y="175" width="1" height="1"/><rect x="261" y="129" width="1" height="1"/><rect x="266" y="129" width="1" height="1"/><rect x="271" y="129" width="1" height="1"/><rect x="276" y="129" width="1" height="1"/><rect x="281" y="129" width="1" height="1"/><rect x="286" y="129" width="1" height="1"/><rect x="291" y="129" width="1" height="1"/><rect x="261" y="134" width="1" height="1"/><rect x="266" y="134" width="1" height="1"/><rect x="271" y="134" width="1" height="1"/><rect x="276" y="134" width="1" height="1"/><rect x="281" y="134" width="1" height="1"/><rect x="286" y="134" width="1" height="1"/><rect x="291" y="134" width="1" height="1"/><rect x="261" y="139" width="1" height="1"/><rect x="266" y="139" width="1" height="1"/><rect x="271" y="139" width="1" height="1"/><rect x="276" y="139" width="1" height="1"/><rect x="281" y="139" width="1" height="1"/><rect x="286" y="139" width="1" height="1"/><rect x="291" y="139" width="1" height="1"/><rect x="261" y="144" width="1" height="1"/><rect x="266" y="144" width="1" height="1"/><rect x="271" y="144" width="1" height="1"/><rect x="276" y="144" width="1" height="1"/><rect x="281" y="144" width="1" height="1"/><rect x="286" y="144" width="1" height="1"/><rect x="291" y="144" width="1" height="1"/><rect x="261" y="149" width="1" height="1"/><rect x="266" y="149" width="1" height="1"/><rect x="271" y="149" width="1" height="1"/><rect x="276" y="149" width="1" height="1"/><rect x="281" y="149" width="1" height="1"/><rect x="286" y="149" width="1" height="1"/><rect x="291" y="149" width="1" height="1"/><rect x="261" y="154" width="1" height="1"/><rect x="266" y="154" width="1" height="1"/><rect x="271" y="154" width="1" height="1"/><rect x="276" y="154" width="1" height="1"/><rect x="281" y="154" width="1" height="1"/><rect x="286" y="154" width="1" height="1"/><rect x="291" y="154" width="1" height="1"/><rect x="261" y="159" width="1" height="1"/><rect x="266" y="159" width="1" height="1"/><rect x="271" y="159" width="1" height="1"/><rect x="276" y="159" width="1" height="1"/><rect x="281" y="159" width="1" height="1"/><rect x="286" y="159" width="1" height="1"/><rect x="291" y="159" width="1" height="1"/></g>
<g clip-path="url(#c9)">
<rect x="213" y="186" width="4" height="47" fill="#000"/>
<rect x="234" y="186" width="4" height="47" fill="#000"/>
<rect x="254" y="186" width="4" height="47" fill="#000"/>
<rect x="278" y="186" width="4" height="47" fill="#000"/>
<rect x="193" y="205.8" width="100" height="4" fill="#000"/>
<rect x="193" y="227" width="100" height="4" fill="#000"/>
</g>
<rect x="193" y="246" width="68" height="26" fill="url(#pV1)"/>
<rect x="193" y="272" width="68" height="21" fill="url(#pV2)"/>
<rect x="261" y="246" width="20" height="26" fill="url(#pV3)"/>
<rect x="261" y="272" width="20" height="21" fill="url(#pV4)"/>
<rect x="281" y="246" width="12" height="29" fill="url(#pV5)"/>
<rect x="281" y="275" width="12" height="18" fill="url(#pV6)"/>
<rect x="189" y="6" width="108" height="4" fill="#000"/>
<rect x="189" y="6" width="4" height="58" fill="#000"/>
<rect x="293" y="6" width="4" height="58" fill="#000"/>
<rect x="189" y="60" width="108" height="4" fill="#000"/>
<rect x="189" y="66" width="108" height="4" fill="#000"/>
<rect x="189" y="66" width="4" height="54" fill="#000"/>
<rect x="293" y="66" width="4" height="54" fill="#000"/>
<rect x="189" y="116" width="108" height="4" fill="#000"/>
<rect x="189" y="125" width="108" height="4" fill="#000"/>
<rect x="189" y="125" width="4" height="55" fill="#000"/>
<rect x="293" y="125" width="4" height="55" fill="#000"/>
<rect x="189" y="176" width="108" height="4" fill="#000"/>
<rect x="189" y="182" width="108" height="4" fill="#000"/>
<rect x="189" y="182" width="4" height="55" fill="#000"/>
<rect x="293" y="182" width="4" height="55" fill="#000"/>
<rect x="189" y="233" width="108" height="4" fill="#000"/>
<rect x="189" y="242" width="108" height="4" fill="#000"/>
<rect x="189" y="242" width="4" height="55" fill="#000"/>
<rect x="293" y="242" width="4" height="55" fill="#000"/>
<rect x="189" y="293" width="108" height="4" fill="#000"/>
<text transform="translate(0 48) scale(0.985 1)" font-size="59.7" x="323.28 356.00 392.33" y="0 0 0">PET</text>
<text transform="translate(0 110) scale(0.985 1)" font-size="59.7" x="323.28 355.85 392.63" y="0 0 0">PLA</text>
<text transform="translate(0 174) scale(0.985 1)" font-size="59.7" x="323.23 356.15 392.84 435.82 451.55 484.90 526.73 567.94" y="0 0 0 0 0 0 0 0">PLA<tspan font-size="61.5">/</tspan>PHBV</text>
<text transform="translate(0 234) scale(0.985 1)" font-size="59.7" x="323.28 355.90 392.64 428.29 448.68 507.29 566.93 599.45 636.19 679.27 737.99 797.22 856.84 915.69" y="0 0 0 0 1.8 1.8 0 0 0 1.8 1.8 1.8 1.8 0">PET(<tspan font-size="59" font-weight="500">伴随</tspan>PLA<tspan font-size="59" font-weight="500">纤维土埋</tspan>)</text>
<text transform="translate(0 300) scale(0.985 1)" font-size="59.7" x="319.42 352.04 388.68 424.28 444.32 502.92 562.41 595.54 631.21 674.71 691.79 705.21 738.20 780.28 819.51 863.69 923.27 982.55 1041.11 1099.90" y="0 0 0 0 1.8 1.8 0 0 0 0 0 0 0 0 0 1.8 1.8 1.8 1.8 0">PET(<tspan font-size="59" font-weight="500">伴随</tspan>PLA<tspan font-size="61.5">/</tspan> PHBV<tspan font-size="59" font-weight="500">纤维土埋</tspan>)</text>
<text transform="translate(0 95.7) scale(0.947 1)" font-size="60.2" x="77.53 108.66" y="0 0">60</text>
<text transform="translate(0 280.7) scale(0.947 1)" font-size="60.2" x="77.41 108.66" y="0 0">50</text>
<text transform="translate(0 465.8) scale(0.947 1)" font-size="60.2" x="77.23 108.66" y="0 0">40</text>
<text transform="translate(0 651.7) scale(0.947 1)" font-size="60.2" x="77.13 108.66" y="0 0">30</text>
<text transform="translate(0 833.8) scale(0.947 1)" font-size="60.2" x="78.11 108.66" y="0 0">20</text>
<text transform="translate(0 1018.8) scale(0.947 1)" font-size="60.2" x="77.09 108.66" y="0 0">10</text>
<text transform="translate(0 1203.7) scale(0.947 1)" font-size="60.2" x="103.32" y="0">0</text>
<text transform="translate(0 1248.7) scale(0.947 1)" font-size="60.2" x="504.75" y="0">9</text>
<text transform="translate(0 1249) scale(0.947 1)" font-size="60.2" x="1217.48 1248.75" y="0 0">12</text>
<text transform="translate(0 1103) scale(0.947 1)" font-size="60.2" x="253.58 288.74 302.61" y="0 0.4 0">4<tspan font-size="42.742">.</tspan>2</text>
<text transform="translate(0 953) scale(0.947 1)" font-size="60.2" x="360.99 392.47 427.02 436.01" y="0 0 0.4 0">12<tspan font-size="42.742">.</tspan>3</text>
<text transform="translate(0 387) scale(0.947 1)" font-size="60.2" x="474.22 505.35 539.06 550.10" y="0 0 0.4 0">42<tspan font-size="42.742">.</tspan>9</text>
<text transform="translate(0 1058) scale(0.947 1)" font-size="60.2" x="601.29 636.32 650.34" y="0 0.4 0">6<tspan font-size="42.742">.</tspan>2</text>
<text transform="translate(0 1049) scale(0.947 1)" font-size="60.2" x="720.58 755.43 766.18" y="0 0.4 0">7<tspan font-size="42.742">.</tspan>2</text>
<text transform="translate(0 1094) scale(0.947 1)" font-size="60.2" x="983.35 1018.73 1026.65" y="0 0.4 0">4<tspan font-size="42.742">.</tspan>7</text>
<text transform="translate(0 936) scale(0.947 1)" font-size="60.2" x="1087.81 1118.16 1152.05 1166.79" y="0 0 0.4 0">13<tspan font-size="42.742">.</tspan>3</text>
<text transform="translate(0 266) scale(0.947 1)" font-size="60.2" x="1204.95 1236.59 1269.79 1284.55" y="0 0 0.4 0">49<tspan font-size="42.742">.</tspan>6</text>
<text transform="translate(0 1051.7) scale(0.947 1)" font-size="60.2" x="1330.70 1364.67 1375.26" y="0 0.4 0">6<tspan font-size="42.742">.</tspan>6</text>
<text transform="translate(0 1037) scale(0.947 1)" font-size="60.2" x="1446.98 1482.04 1495.61" y="0 0.4 0">7<tspan font-size="42.742">.</tspan>7</text>
<text transform="translate(0 1313) scale(1 1)" font-size="59.7" x="670.04 727.68 788.05 846.58 905.57 923.75" y="1.8 1.8 1.8 1.8 0 1.8"><tspan font-size="58.5" font-weight="500">处理时间</tspan><tspan font-size="65">/</tspan><tspan font-size="58.5" font-weight="500">月</tspan></text>
<text transform="translate(50.1 0) rotate(-90) scale(1 1)" font-size="61.3" x="-876.68 -818.13 -755.78 -697.22 -640.09 -578.72 -520.27 -462.47 -446.93" y="1.8 1.8 1.8 1.8 1.8 1.8 1.8 0 0"><tspan font-size="58.9" font-weight="500">断裂强力下降率</tspan><tspan font-size="63.5">/</tspan>%</text>
</svg>
</body></html>
